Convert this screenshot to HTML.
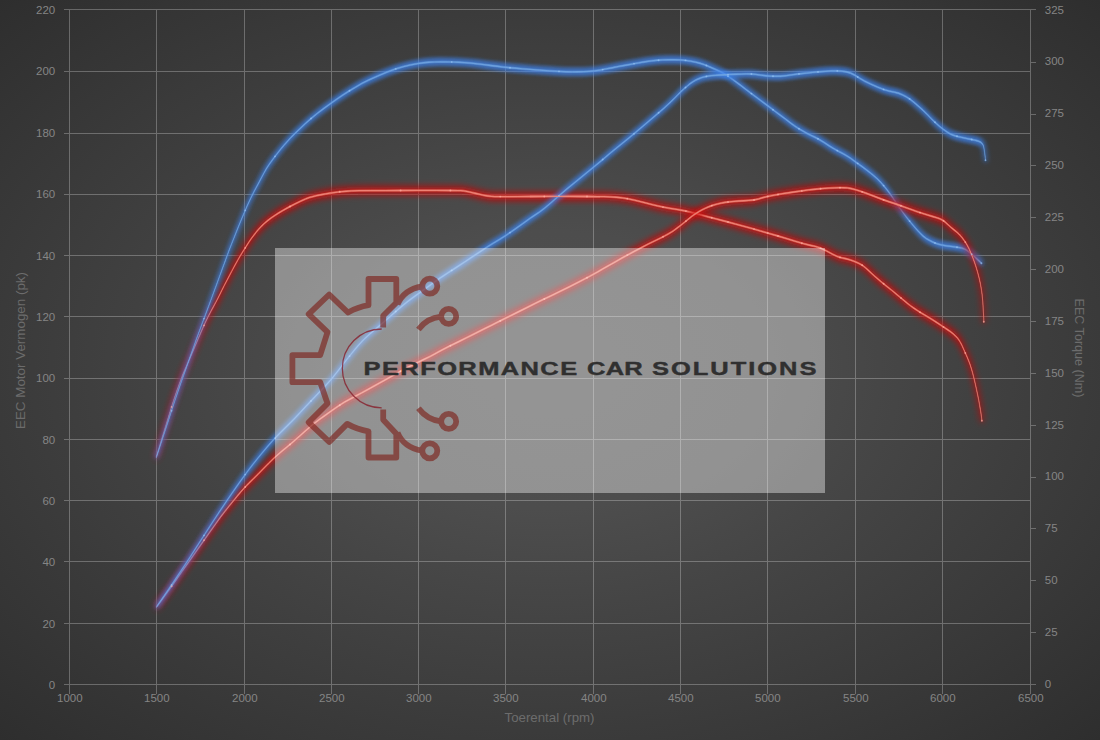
<!DOCTYPE html>
<html><head><meta charset="utf-8"><title>Dyno chart</title>
<style>
html,body{margin:0;padding:0;background:#383838;}
body{width:1100px;height:740px;overflow:hidden;font-family:"Liberation Sans",sans-serif;}
svg{display:block}
text{font-family:"Liberation Sans",sans-serif;}
</style></head><body>
<svg width="1100" height="740" viewBox="0 0 1100 740">
<defs>
<radialGradient id="bg" cx="0.5" cy="0.5" r="0.75"><stop offset="0" stop-color="#505050"/><stop offset="0.25" stop-color="#4d4d4d"/><stop offset="0.4" stop-color="#464646"/><stop offset="0.65" stop-color="#3b3b3b"/><stop offset="0.943" stop-color="#2e2e2e"/><stop offset="1" stop-color="#2b2b2b"/></radialGradient>
<filter id="g1r" x="0" y="0" width="1100" height="740" filterUnits="userSpaceOnUse"><feGaussianBlur stdDeviation="3.0 3.6"/></filter>
<filter id="g3r" x="0" y="0" width="1100" height="740" filterUnits="userSpaceOnUse"><feGaussianBlur stdDeviation="3.4"/></filter>
<filter id="g1b" x="0" y="0" width="1100" height="740" filterUnits="userSpaceOnUse"><feGaussianBlur stdDeviation="2.4 1.7"/></filter>
<filter id="g3b" x="0" y="0" width="1100" height="740" filterUnits="userSpaceOnUse"><feGaussianBlur stdDeviation="2.6"/></filter>
<filter id="gm" x="0" y="0" width="1100" height="740" filterUnits="userSpaceOnUse"><feGaussianBlur stdDeviation="0.9"/></filter>
<filter id="g2" x="0" y="0" width="1100" height="740" filterUnits="userSpaceOnUse"><feGaussianBlur stdDeviation="0.45"/></filter>
<path id="rt" d="M156.5 456.7C157.9 452.0 162.1 437.9 165.0 428.5C167.9 419.1 171.1 408.4 173.8 400.0C176.6 391.6 179.2 384.2 181.5 378.1C183.8 372.0 184.5 370.9 187.7 363.3C190.9 355.7 197.4 340.4 200.8 332.6C204.2 324.8 205.5 321.9 208.2 316.5C210.9 311.1 214.3 305.2 217.0 300.0C219.7 294.8 222.0 289.9 224.5 285.0C227.0 280.1 229.8 274.8 232.1 270.5C234.4 266.2 236.3 262.6 238.4 259.0C240.5 255.4 242.4 252.3 244.6 248.8C246.8 245.3 249.2 241.6 251.6 238.2C254.0 234.8 256.5 231.5 259.2 228.6C261.9 225.7 264.6 223.1 267.8 220.5C271.0 217.9 274.9 215.3 278.6 213.0C282.3 210.7 285.5 208.8 290.0 206.5C294.5 204.2 301.3 200.7 305.7 198.9C310.1 197.1 312.4 196.6 316.5 195.7C320.6 194.8 325.8 193.9 330.0 193.2C334.2 192.5 337.2 192.0 342.0 191.6C346.8 191.2 349.2 190.9 359.0 190.7C368.8 190.5 385.4 190.5 400.6 190.5C415.8 190.5 439.9 190.4 450.4 190.5C460.9 190.6 459.5 190.4 463.8 190.9C468.1 191.4 472.0 192.7 476.0 193.5C480.0 194.3 483.9 195.5 488.0 196.0C492.1 196.5 493.3 196.5 500.3 196.6C507.3 196.7 515.5 196.5 530.0 196.5C544.5 196.5 573.7 196.4 587.0 196.5C600.3 196.6 603.1 196.4 610.0 196.8C616.9 197.2 622.2 197.7 628.3 198.8C634.4 199.9 640.6 201.8 646.5 203.2C652.4 204.6 657.0 205.9 663.5 207.2C670.0 208.5 678.0 209.4 685.5 211.0C693.0 212.6 701.6 215.2 708.7 217.0C715.8 218.8 720.7 220.1 728.0 222.0C735.3 223.9 744.2 226.4 752.5 228.7C760.8 231.0 769.5 233.5 778.0 236.0C786.5 238.5 796.4 241.7 803.5 243.7C810.6 245.7 814.9 245.9 820.6 248.1C826.3 250.2 832.7 254.7 837.6 256.6C842.5 258.6 845.9 258.4 850.0 259.8C854.1 261.2 858.6 262.9 862.2 265.2C865.9 267.5 868.7 270.9 871.9 273.7C875.1 276.5 878.4 279.5 881.6 282.2C884.9 284.9 888.2 287.4 891.4 290.0C894.6 292.6 897.8 295.3 901.0 298.0C904.2 300.7 907.5 303.6 910.8 306.0C914.1 308.4 917.0 310.3 920.6 312.6C924.2 314.9 928.9 317.5 932.7 319.9C936.5 322.3 940.1 324.7 943.5 327.0C946.9 329.3 950.3 331.4 953.0 333.7C955.7 336.0 957.6 337.8 959.6 341.0C961.6 344.2 963.6 349.1 965.3 353.0C967.0 356.9 968.6 360.2 970.0 364.3C971.4 368.4 972.5 372.6 973.8 377.6C975.1 382.7 976.5 389.2 977.6 394.6C978.7 400.0 979.7 405.4 980.4 409.7C981.1 414.0 981.6 418.9 981.9 420.7"/>
<path id="bt" d="M156.5 456.7C158.1 452.0 162.7 437.9 165.8 428.5C168.9 419.1 172.3 408.4 175.1 400.0C177.9 391.6 180.0 385.6 182.6 378.1C185.2 370.6 188.0 362.8 190.7 355.2C193.4 347.6 196.4 339.1 198.8 332.6C201.2 326.1 202.9 321.6 204.9 316.2C206.9 310.8 208.5 306.6 210.9 300.0C213.3 293.4 216.5 284.8 219.5 276.5C222.5 268.2 226.2 257.9 229.0 250.5C231.8 243.1 233.7 238.4 236.3 232.0C238.9 225.6 242.1 217.7 244.6 211.8C247.1 205.9 249.2 201.4 251.6 196.4C254.0 191.4 256.7 186.7 259.2 182.0C261.7 177.3 263.9 172.8 266.5 168.5C269.1 164.2 272.0 160.3 275.0 156.4C278.0 152.5 281.1 148.6 284.3 144.9C287.5 141.2 289.9 138.4 294.4 134.0C298.9 129.6 305.4 123.3 311.4 118.2C317.4 113.1 324.1 108.2 330.5 103.6C336.9 99.0 343.1 94.8 349.5 90.8C355.9 86.8 361.3 83.6 369.0 79.9C376.7 76.2 387.6 71.6 395.7 68.9C403.8 66.2 411.1 64.8 417.6 63.6C424.1 62.5 428.9 62.3 434.6 62.0C440.3 61.7 445.6 61.8 451.7 62.0C457.8 62.2 464.5 62.5 471.0 63.1C477.5 63.7 484.1 64.7 490.6 65.5C497.1 66.3 503.4 67.0 510.0 67.7C516.6 68.4 521.8 68.8 530.0 69.4C538.2 70.0 550.9 71.0 559.0 71.4C567.1 71.8 572.5 71.9 578.4 71.8C584.3 71.7 588.5 71.6 594.2 70.9C599.9 70.2 606.2 68.9 612.5 67.7C618.8 66.5 625.5 65.1 632.0 64.0C638.5 62.9 645.3 61.6 651.4 60.9C657.5 60.2 662.7 59.8 668.4 59.7C674.1 59.6 680.2 59.8 685.5 60.4C690.8 61.0 695.5 61.9 700.0 63.2C704.5 64.5 708.2 66.2 712.2 68.0C716.2 69.8 720.2 71.4 724.3 73.8C728.3 76.2 732.0 79.0 736.5 82.3C741.0 85.5 746.1 89.6 751.0 93.3C755.9 97.0 760.8 100.5 765.7 104.2C770.6 107.9 775.4 111.6 780.3 115.2C785.2 118.8 790.4 123.1 794.9 126.1C799.4 129.1 803.0 131.2 807.0 133.4C811.0 135.6 814.7 136.9 819.2 139.5C823.7 142.1 829.3 146.1 833.8 148.7C838.3 151.3 841.9 152.8 846.0 155.3C850.1 157.8 854.2 160.9 858.2 163.8C862.2 166.7 866.7 169.9 870.3 172.8C873.9 175.8 876.8 178.1 880.0 181.5C883.2 184.9 886.7 189.3 889.8 193.5C892.9 197.7 895.2 201.8 898.7 206.6C902.2 211.4 906.8 217.7 910.8 222.6C914.8 227.5 919.4 232.8 923.0 236.0C926.6 239.2 929.5 240.5 932.7 242.0C936.0 243.5 938.9 244.4 942.5 245.2C946.1 246.0 951.0 246.3 954.6 246.9C958.2 247.5 961.5 247.7 964.4 248.9C967.2 250.1 968.9 251.8 971.7 254.2C974.5 256.6 979.8 261.7 981.4 263.2"/>
<path id="rp" d="M156.8 606.5C159.3 603.1 166.4 593.4 171.6 586.2C176.8 579.0 182.4 570.9 187.8 563.2C193.2 555.6 198.6 547.9 204.0 540.3C209.4 532.6 215.3 524.0 220.3 517.3C225.3 510.6 229.8 505.2 233.8 500.3C237.9 495.4 240.5 492.0 244.6 487.6C248.7 483.2 253.2 479.1 258.1 474.1C263.1 469.1 268.4 463.2 274.3 457.8C280.2 452.4 286.9 447.2 293.3 441.7C299.7 436.2 306.4 429.7 312.7 424.6C319.0 419.5 325.7 414.9 331.0 411.2C336.3 407.5 339.3 405.2 344.4 402.2C349.5 399.2 354.5 396.8 361.4 393.0C368.3 389.2 378.0 383.9 385.7 379.6C393.4 375.3 400.2 371.2 407.6 367.4C415.0 363.5 424.1 359.5 430.0 356.5C435.9 353.5 436.5 352.8 442.7 349.6C448.9 346.4 458.9 341.6 467.0 337.5C475.1 333.4 484.1 328.9 491.4 325.3C498.7 321.7 503.5 319.2 510.8 315.6C518.1 312.0 527.0 307.4 535.2 303.4C543.4 299.4 551.0 295.9 560.0 291.4C569.0 286.9 581.0 280.9 589.3 276.5C597.6 272.1 603.5 268.4 610.0 264.8C616.5 261.2 621.8 258.1 628.3 254.6C634.8 251.1 642.3 247.1 649.0 243.7C655.7 240.2 663.1 236.9 668.4 233.9C673.7 230.9 676.5 228.4 680.6 225.4C684.7 222.4 689.1 218.3 692.7 215.7C696.4 213.1 699.2 211.3 702.5 209.6C705.8 207.9 708.6 206.7 712.2 205.5C715.8 204.3 719.8 203.2 724.3 202.5C728.8 201.8 734.1 201.4 739.0 201.0C743.9 200.6 748.9 200.7 753.6 200.0C758.3 199.3 762.1 197.7 767.0 196.6C771.9 195.5 776.8 194.7 782.7 193.7C788.6 192.7 795.7 191.7 802.2 190.8C808.7 190.0 815.4 189.1 821.7 188.6C828.0 188.1 835.1 187.7 840.0 187.7C844.9 187.7 846.6 187.6 850.9 188.5C855.1 189.4 860.0 191.1 865.5 193.0C871.0 194.9 878.5 198.0 884.0 200.0C889.5 202.0 893.2 203.1 898.7 205.0C904.2 206.9 911.3 209.7 917.0 211.6C922.7 213.5 928.5 215.1 932.7 216.5C937.0 217.9 939.5 218.3 942.5 220.1C945.5 221.9 948.2 225.0 951.0 227.4C953.8 229.8 956.9 231.8 959.5 234.7C962.1 237.5 964.6 240.6 966.8 244.5C969.0 248.4 971.1 253.2 972.9 257.9C974.7 262.6 976.3 267.2 977.7 272.5C979.1 277.8 980.5 283.8 981.4 289.5C982.3 295.2 982.7 301.1 983.1 306.5C983.5 311.9 983.7 319.2 983.8 321.8"/>
<path id="bp" d="M156.8 606.5C158.8 603.6 164.2 595.9 168.9 588.9C173.6 581.9 179.9 572.5 185.1 564.6C190.3 556.7 195.0 549.3 200.0 541.6C205.0 533.9 210.2 525.8 214.9 518.6C219.6 511.4 223.5 505.6 228.4 498.4C233.3 491.2 239.6 482.2 244.6 475.4C249.6 468.6 253.2 463.9 258.1 457.8C263.1 451.7 268.4 445.2 274.3 438.9C280.2 432.6 286.9 426.4 293.3 419.8C299.7 413.2 306.4 405.8 312.7 399.1C319.0 392.4 324.9 386.7 331.0 379.6C337.1 372.5 343.7 363.2 349.2 356.5C354.7 349.8 357.9 345.3 363.8 339.5C369.7 333.7 377.6 327.4 384.3 321.6C391.0 315.8 398.1 309.2 403.8 304.6C409.5 300.0 412.3 298.1 418.4 293.7C424.5 289.2 432.6 283.2 440.3 277.9C448.0 272.6 456.9 267.1 464.6 262.0C472.3 256.9 479.6 251.8 486.5 247.4C493.4 243.0 498.7 240.2 506.0 235.3C513.3 230.4 523.9 222.7 530.3 218.2C536.7 213.7 538.3 213.2 544.3 208.4C550.3 203.6 557.9 196.5 566.2 189.5C574.5 182.5 585.7 173.6 594.2 166.6C602.7 159.6 610.6 152.8 617.3 147.3C624.0 141.8 627.5 139.2 634.4 133.4C641.3 127.6 652.6 118.0 658.7 112.7C664.8 107.4 667.2 105.2 670.9 101.8C674.5 98.3 677.4 95.0 680.6 92.0C683.8 89.0 687.3 85.7 690.3 83.5C693.3 81.3 696.0 79.9 698.8 78.7C701.6 77.5 703.8 76.8 707.3 76.2C710.8 75.6 715.2 75.3 720.0 75.0C724.8 74.7 730.8 74.5 736.0 74.3C741.2 74.1 746.0 73.8 751.0 74.0C756.0 74.2 760.8 75.3 765.7 75.7C770.6 76.1 774.6 76.5 780.3 76.2C786.0 75.9 793.3 74.5 799.8 73.8C806.3 73.1 813.1 72.3 819.2 71.8C825.3 71.3 831.1 70.7 836.3 70.9C841.5 71.1 845.8 71.3 850.5 73.0C855.2 74.7 859.0 78.3 864.6 81.1C870.2 83.9 878.3 87.6 884.0 89.6C889.7 91.6 894.4 91.8 898.7 93.3C903.0 94.8 905.6 96.1 909.6 98.9C913.6 101.7 918.7 106.4 923.0 110.3C927.3 114.2 931.2 118.8 935.2 122.5C939.2 126.2 943.7 129.9 947.3 132.2C950.9 134.5 952.9 135.1 957.0 136.3C961.1 137.5 968.0 138.7 971.7 139.5C975.4 140.3 977.1 140.5 979.0 141.4C980.9 142.3 982.1 143.1 983.0 144.8C983.9 146.5 984.1 149.1 984.5 151.7C984.9 154.3 985.3 158.8 985.5 160.2"/>
<clipPath id="cpb"><rect x="530" y="180" width="70" height="35"/></clipPath>
</defs>
<rect width="1100" height="740" fill="url(#bg)"/>
<path d="M69.5 9V694M156.5 9V694M244.5 9V694M331.5 9V694M418.5 9V694M505.5 9V694M593.5 9V694M680.5 9V694M767.5 9V694M855.5 9V694M942.5 9V694M1030.5 9V694M64 684.5H1030M64 623.5H1030M64 561.5H1030M64 500.5H1030M64 439.5H1030M64 378.5H1030M64 316.5H1030M64 255.5H1030M64 194.5H1030M64 133.5H1030M64 71.5H1030M64 9.5H1030M1031 684.5H1036M1031 632.5H1036M1031 580.5H1036M1031 528.5H1036M1031 477.5H1036M1031 425.5H1036M1031 373.5H1036M1031 321.5H1036M1031 269.5H1036M1031 217.5H1036M1031 165.5H1036M1031 114.5H1036M1031 62.5H1036M1031 9.5H1036" stroke="rgba(255,255,255,0.265)" stroke-width="1" fill="none" shape-rendering="crispEdges"/>
<g font-size="11.5" fill="#858585" letter-spacing="-0.05"><text x="55.1" y="689.0" text-anchor="end">0</text><text x="55.1" y="627.6" text-anchor="end">20</text><text x="55.1" y="566.3" text-anchor="end">40</text><text x="55.1" y="504.9" text-anchor="end">60</text><text x="55.1" y="443.5" text-anchor="end">80</text><text x="55.1" y="382.2" text-anchor="end">100</text><text x="55.1" y="320.8" text-anchor="end">120</text><text x="55.1" y="259.5" text-anchor="end">140</text><text x="55.1" y="198.1" text-anchor="end">160</text><text x="55.1" y="136.7" text-anchor="end">180</text><text x="55.1" y="75.4" text-anchor="end">200</text><text x="55.1" y="14.0" text-anchor="end">220</text><text x="69.8" y="702.2" text-anchor="middle">1000</text><text x="156.8" y="702.2" text-anchor="middle">1500</text><text x="244.8" y="702.2" text-anchor="middle">2000</text><text x="331.8" y="702.2" text-anchor="middle">2500</text><text x="418.8" y="702.2" text-anchor="middle">3000</text><text x="505.8" y="702.2" text-anchor="middle">3500</text><text x="593.8" y="702.2" text-anchor="middle">4000</text><text x="680.8" y="702.2" text-anchor="middle">4500</text><text x="767.8" y="702.2" text-anchor="middle">5000</text><text x="855.8" y="702.2" text-anchor="middle">5500</text><text x="942.8" y="702.2" text-anchor="middle">6000</text><text x="1030.8" y="702.2" text-anchor="middle">6500</text><text x="1044.8" y="687.8">0</text><text x="1044.8" y="635.9">25</text><text x="1044.8" y="584.1">50</text><text x="1044.8" y="532.2">75</text><text x="1044.8" y="480.4">100</text><text x="1044.8" y="428.5">125</text><text x="1044.8" y="376.6">150</text><text x="1044.8" y="324.8">175</text><text x="1044.8" y="272.9">200</text><text x="1044.8" y="221.0">225</text><text x="1044.8" y="169.2">250</text><text x="1044.8" y="117.3">275</text><text x="1044.8" y="65.4">300</text><text x="1044.8" y="13.6">325</text></g>
<g font-size="12.2" fill="#6c6c6c" text-anchor="middle"><text x="549.5" y="721.5" textLength="90" lengthAdjust="spacingAndGlyphs">Toerental (rpm)</text><text transform="translate(25.2 350.5) rotate(-90)" textLength="157" lengthAdjust="spacingAndGlyphs">EEC Motor Vermogen (pk)</text><text transform="translate(1074.5 348) rotate(90)" textLength="99" lengthAdjust="spacingAndGlyphs">EEC Torque (Nm)</text></g>
<g fill="none" stroke-linecap="round" stroke-linejoin="round"><path d="M156.5 452.7L158.7 445.4L161.8 435.0L165.0 424.5L168.0 414.8L170.9 405.0L173.8 396.0L176.5 387.9L179.1 380.6L181.5 374.1L183.4 369.2L185.2 365.1L187.7 359.3L191.8 349.7L196.6 338.3L200.8 328.6L203.6 322.2L205.8 317.4L208.2 312.5L211.1 307.0L214.1 301.4L217.0 296.0L219.6 290.9L222.0 285.9L224.5 281.0L227.1 276.0L229.7 271.1L232.1 266.5L234.3 262.4L236.4 258.6L238.4 255.0L240.4 251.5L242.5 248.2L244.6 244.8L246.9 241.3L249.2 237.7L251.6 234.2L254.1 230.9L256.6 227.7L259.2 224.6L261.9 221.8L264.7 219.1L267.8 216.5L271.2 213.9L274.9 211.4L278.6 209.0L282.2 206.8L285.9 204.7L290.0 202.5L295.1 199.9L300.7 197.1L305.7 194.9L309.6 193.5L312.9 192.6L316.5 191.7L320.9 190.8L325.5 189.9L330.0 189.2L333.9 188.6L337.7 188.0L342.0 187.6L346.4 187.2L351.3 186.9L359.0 186.7L370.7 186.6L385.2 186.5L400.6 186.5L417.9 186.5L436.2 186.5L450.4 186.5L457.6 186.5L460.8 186.6L463.8 186.9L468.0 187.6L472.0 188.6L476.0 189.5L480.0 190.4L484.0 191.3L488.0 192.0L491.4 192.4L494.9 192.5L500.3 192.6L507.9 192.6L517.4 192.6L530.0 192.5L548.2 192.5L569.5 192.5L587.0 192.5L597.4 192.5L603.9 192.6L610.0 192.8L616.5 193.3L622.4 193.9L628.3 194.8L634.4 196.1L640.5 197.7L646.5 199.2L652.1 200.6L657.5 201.9L663.5 203.2L670.4 204.4L677.9 205.6L685.5 207.0L693.3 208.9L701.2 211.0L708.7 213.0L715.2 214.7L721.3 216.2L728.0 218.0L735.7 220.1L744.1 222.4L752.5 224.7L760.9 227.1L769.5 229.5L778.0 232.0L786.8 234.7L795.6 237.4L803.5 239.7L809.8 241.3L815.2 242.5L820.6 244.1L826.4 246.8L832.3 250.0L837.6 252.6L842.1 254.0L846.1 254.8L850.0 255.8L854.2 257.3L858.3 259.1L862.2 261.2L865.6 263.8L868.8 266.8L871.9 269.7L875.1 272.6L878.4 275.4L881.6 278.2L884.9 280.8L888.1 283.4L891.4 286.0L894.6 288.7L897.8 291.3L901.0 294.0L904.3 296.7L907.5 299.4L910.8 302.0L914.0 304.3L917.2 306.4L920.6 308.6L924.5 311.0L928.7 313.5L932.7 315.9L936.4 318.3L940.0 320.7L943.5 323.0L946.9 325.2L950.1 327.4L953.0 329.7L955.4 331.9L957.6 334.2L959.6 337.0L961.6 340.7L963.5 344.9L965.3 349.0L967.0 352.7L968.5 356.4L970.0 360.3L971.3 364.4L972.6 368.8L973.8 373.6L975.1 379.1L976.4 384.9L977.6 390.6L978.7 395.9L979.6 401.0L980.4 405.7L981.1 410.1L981.6 414.0L981.9 416.7L981.9 424.7L981.6 422.0L981.1 418.1L980.4 413.7L979.6 409.0L978.7 403.9L977.6 398.6L976.4 392.9L975.1 387.1L973.8 381.6L972.6 376.8L971.3 372.4L970.0 368.3L968.5 364.4L967.0 360.7L965.3 357.0L963.5 352.9L961.6 348.7L959.6 345.0L957.6 342.2L955.4 339.9L953.0 337.7L950.1 335.4L946.9 333.2L943.5 331.0L940.0 328.7L936.4 326.3L932.7 323.9L928.7 321.5L924.5 319.0L920.6 316.6L917.2 314.4L914.0 312.3L910.8 310.0L907.5 307.4L904.3 304.7L901.0 302.0L897.8 299.3L894.6 296.7L891.4 294.0L888.1 291.4L884.9 288.8L881.6 286.2L878.4 283.4L875.1 280.6L871.9 277.7L868.8 274.8L865.6 271.8L862.2 269.2L858.3 267.1L854.2 265.3L850.0 263.8L846.1 262.8L842.1 262.0L837.6 260.6L832.3 258.0L826.4 254.8L820.6 252.1L815.2 250.5L809.8 249.3L803.5 247.7L795.6 245.4L786.8 242.7L778.0 240.0L769.5 237.5L760.9 235.1L752.5 232.7L744.1 230.4L735.7 228.1L728.0 226.0L721.3 224.2L715.2 222.7L708.7 221.0L701.2 219.0L693.3 216.9L685.5 215.0L677.9 213.6L670.4 212.4L663.5 211.2L657.5 209.9L652.1 208.6L646.5 207.2L640.5 205.7L634.4 204.1L628.3 202.8L622.4 201.9L616.5 201.3L610.0 200.8L603.9 200.6L597.4 200.5L587.0 200.5L569.5 200.5L548.2 200.5L530.0 200.5L517.4 200.6L507.9 200.6L500.3 200.6L494.9 200.5L491.4 200.4L488.0 200.0L484.0 199.3L480.0 198.4L476.0 197.5L472.0 196.6L468.0 195.6L463.8 194.9L460.8 194.6L457.6 194.5L450.4 194.5L436.2 194.5L417.9 194.5L400.6 194.5L385.2 194.5L370.7 194.6L359.0 194.7L351.3 194.9L346.4 195.2L342.0 195.6L337.7 196.0L333.9 196.6L330.0 197.2L325.5 197.9L320.9 198.8L316.5 199.7L312.9 200.6L309.6 201.5L305.7 202.9L300.7 205.1L295.1 207.9L290.0 210.5L285.9 212.7L282.2 214.8L278.6 217.0L274.9 219.4L271.2 221.9L267.8 224.5L264.7 227.1L261.9 229.8L259.2 232.6L256.6 235.7L254.1 238.9L251.6 242.2L249.2 245.7L246.9 249.3L244.6 252.8L242.5 256.2L240.4 259.5L238.4 263.0L236.4 266.6L234.3 270.4L232.1 274.5L229.7 279.1L227.1 284.0L224.5 289.0L222.0 293.9L219.6 298.9L217.0 304.0L214.1 309.4L211.1 315.0L208.2 320.5L205.8 325.4L203.6 330.2L200.8 336.6L196.6 346.3L191.8 357.7L187.7 367.3L185.2 373.1L183.4 377.2L181.5 382.1L179.1 388.6L176.5 395.9L173.8 404.0L170.9 413.0L168.0 422.8L165.0 432.5L161.8 443.0L158.7 453.4L156.5 460.7Z" fill="#cc0c0c" fill-opacity="0.72" filter="url(#g1r)"/><use href="#rt" stroke="#cc0c0c" stroke-width="4.5" stroke-opacity="0.45" filter="url(#g3r)"/><path d="M156.5 455.4L158.7 448.1L161.8 437.7L165.0 427.2L168.0 417.5L170.9 407.7L173.8 398.7L176.5 390.6L179.1 383.3L181.5 376.8L183.4 371.9L185.2 367.8L187.7 362.0L191.8 352.4L196.6 341.0L200.8 331.3L203.6 324.9L205.8 320.1L208.2 315.2L211.1 309.7L214.1 304.1L217.0 298.7L219.6 293.6L222.0 288.6L224.5 283.7L227.1 278.7L229.7 273.8L232.1 269.2L234.3 265.1L236.4 261.3L238.4 257.7L240.4 254.2L242.5 250.9L244.6 247.5L246.9 244.0L249.2 240.4L251.6 236.9L254.1 233.6L256.6 230.4L259.2 227.3L261.9 224.5L264.7 221.8L267.8 219.2L271.2 216.6L274.9 214.1L278.6 211.7L282.2 209.5L285.9 207.4L290.0 205.2L295.1 202.6L300.7 199.8L305.7 197.6L309.6 196.2L312.9 195.3L316.5 194.4L320.9 193.5L325.5 192.6L330.0 191.9L333.9 191.3L337.7 190.7L342.0 190.3L346.4 189.9L351.3 189.6L359.0 189.4L370.7 189.3L385.2 189.2L400.6 189.2L417.9 189.2L436.2 189.2L450.4 189.2L457.6 189.2L460.8 189.3L463.8 189.6L468.0 190.3L472.0 191.3L476.0 192.2L480.0 193.1L484.0 194.0L488.0 194.7L491.4 195.1L494.9 195.2L500.3 195.3L507.9 195.3L517.4 195.3L530.0 195.2L548.2 195.2L569.5 195.2L587.0 195.2L597.4 195.2L603.9 195.3L610.0 195.5L616.5 196.0L622.4 196.6L628.3 197.5L634.4 198.8L640.5 200.4L646.5 201.9L652.1 203.3L657.5 204.6L663.5 205.9L670.4 207.1L677.9 208.3L685.5 209.7L693.3 211.6L701.2 213.7L708.7 215.7L715.2 217.4L721.3 218.9L728.0 220.7L735.7 222.8L744.1 225.1L752.5 227.4L760.9 229.8L769.5 232.2L778.0 234.7L786.8 237.4L795.6 240.1L803.5 242.4L809.8 244.0L815.2 245.2L820.6 246.8L826.4 249.5L832.3 252.7L837.6 255.3L842.1 256.7L846.1 257.5L850.0 258.5L854.2 260.0L858.3 261.8L862.2 263.9L865.6 266.5L868.8 269.5L871.9 272.4L875.1 275.3L878.4 278.1L881.6 280.9L884.9 283.5L888.1 286.1L891.4 288.7L894.6 291.4L897.8 294.0L901.0 296.7L904.3 299.4L907.5 302.1L910.8 304.7L914.0 307.0L917.2 309.1L920.6 311.3L924.5 313.7L928.7 316.2L932.7 318.6L936.4 321.0L940.0 323.4L943.5 325.7L946.9 327.9L950.1 330.1L953.0 332.4L955.4 334.6L957.6 336.9L959.6 339.7L961.6 343.4L963.5 347.6L965.3 351.7L967.0 355.4L968.5 359.1L970.0 363.0L971.3 367.1L972.6 371.5L973.8 376.3L975.1 381.8L976.4 387.6L977.6 393.3L978.7 398.6L979.6 403.7L980.4 408.4L981.1 412.8L981.6 416.7L981.9 419.4L981.9 422.0L981.6 419.3L981.1 415.4L980.4 411.0L979.6 406.3L978.7 401.2L977.6 395.9L976.4 390.2L975.1 384.4L973.8 378.9L972.6 374.1L971.3 369.7L970.0 365.6L968.5 361.7L967.0 358.0L965.3 354.3L963.5 350.2L961.6 346.0L959.6 342.3L957.6 339.5L955.4 337.2L953.0 335.0L950.1 332.7L946.9 330.5L943.5 328.3L940.0 326.0L936.4 323.6L932.7 321.2L928.7 318.8L924.5 316.3L920.6 313.9L917.2 311.7L914.0 309.6L910.8 307.3L907.5 304.7L904.3 302.0L901.0 299.3L897.8 296.6L894.6 294.0L891.4 291.3L888.1 288.7L884.9 286.1L881.6 283.5L878.4 280.7L875.1 277.9L871.9 275.0L868.8 272.1L865.6 269.1L862.2 266.5L858.3 264.4L854.2 262.6L850.0 261.1L846.1 260.1L842.1 259.3L837.6 257.9L832.3 255.3L826.4 252.1L820.6 249.4L815.2 247.8L809.8 246.6L803.5 245.0L795.6 242.7L786.8 240.0L778.0 237.3L769.5 234.8L760.9 232.4L752.5 230.0L744.1 227.7L735.7 225.4L728.0 223.3L721.3 221.5L715.2 220.0L708.7 218.3L701.2 216.3L693.3 214.2L685.5 212.3L677.9 210.9L670.4 209.7L663.5 208.5L657.5 207.2L652.1 205.9L646.5 204.5L640.5 203.0L634.4 201.4L628.3 200.1L622.4 199.2L616.5 198.6L610.0 198.1L603.9 197.9L597.4 197.8L587.0 197.8L569.5 197.8L548.2 197.8L530.0 197.8L517.4 197.9L507.9 197.9L500.3 197.9L494.9 197.8L491.4 197.7L488.0 197.3L484.0 196.6L480.0 195.7L476.0 194.8L472.0 193.9L468.0 192.9L463.8 192.2L460.8 191.9L457.6 191.8L450.4 191.8L436.2 191.8L417.9 191.8L400.6 191.8L385.2 191.8L370.7 191.9L359.0 192.0L351.3 192.2L346.4 192.5L342.0 192.9L337.7 193.3L333.9 193.9L330.0 194.5L325.5 195.2L320.9 196.1L316.5 197.0L312.9 197.9L309.6 198.8L305.7 200.2L300.7 202.4L295.1 205.2L290.0 207.8L285.9 210.0L282.2 212.1L278.6 214.3L274.9 216.7L271.2 219.2L267.8 221.8L264.7 224.4L261.9 227.1L259.2 229.9L256.6 233.0L254.1 236.2L251.6 239.5L249.2 243.0L246.9 246.6L244.6 250.1L242.5 253.5L240.4 256.8L238.4 260.3L236.4 263.9L234.3 267.7L232.1 271.8L229.7 276.4L227.1 281.3L224.5 286.3L222.0 291.2L219.6 296.2L217.0 301.3L214.1 306.7L211.1 312.3L208.2 317.8L205.8 322.7L203.6 327.5L200.8 333.9L196.6 343.6L191.8 355.0L187.7 364.6L185.2 370.4L183.4 374.5L181.5 379.4L179.1 385.9L176.5 393.2L173.8 401.3L170.9 410.3L168.0 420.1L165.0 429.8L161.8 440.3L158.7 450.7L156.5 458.0Z" fill="#f01810" fill-opacity="0.32" stroke="#f01810" stroke-opacity="0.32" stroke-width="0.5" filter="url(#gm)"/><path d="M156.5 456.1L158.7 448.8L161.8 438.3L165.0 427.9L168.0 418.1L170.9 408.4L173.8 399.4L176.5 391.3L179.1 384.0L181.5 377.5L183.4 372.6L185.2 368.5L187.7 362.7L191.8 353.1L196.6 341.7L200.8 332.0L203.6 325.5L205.8 320.7L208.2 315.9L211.1 310.3L214.1 304.8L217.0 299.4L219.6 294.2L222.0 289.3L224.5 284.4L227.1 279.4L229.7 274.4L232.1 269.9L234.3 265.7L236.4 262.0L238.4 258.4L240.4 254.9L242.5 251.5L244.6 248.2L246.9 244.6L249.2 241.0L251.6 237.5L254.1 234.2L256.6 231.0L259.2 227.9L261.9 225.1L264.7 222.4L267.8 219.8L271.2 217.3L274.9 214.8L278.6 212.3L282.2 210.2L285.9 208.1L290.0 205.8L295.1 203.2L300.7 200.5L305.7 198.2L309.6 196.8L312.9 195.9L316.5 195.0L320.9 194.1L325.5 193.3L330.0 192.5L333.9 191.9L337.7 191.4L342.0 190.9L346.4 190.6L351.3 190.3L359.0 190.0L370.7 189.9L385.2 189.9L400.6 189.8L417.9 189.8L436.2 189.8L450.4 189.8L457.6 189.9L460.8 189.9L463.8 190.2L468.0 191.0L472.0 191.9L476.0 192.8L480.0 193.8L484.0 194.7L488.0 195.3L491.4 195.7L494.9 195.9L500.3 195.9L507.9 196.0L517.4 195.9L530.0 195.8L548.2 195.8L569.5 195.8L587.0 195.8L597.4 195.9L603.9 195.9L610.0 196.2L616.5 196.6L622.4 197.2L628.3 198.2L634.4 199.5L640.5 201.0L646.5 202.5L652.1 203.9L657.5 205.2L663.5 206.5L670.4 207.8L677.9 208.9L685.5 210.3L693.3 212.2L701.2 214.3L708.7 216.3L715.2 218.0L721.3 219.6L728.0 221.3L735.7 223.4L744.1 225.7L752.5 228.0L760.9 230.4L769.5 232.9L778.0 235.3L786.8 238.0L795.6 240.7L803.5 243.0L809.8 244.6L815.2 245.8L820.6 247.4L826.4 250.2L832.3 253.4L837.6 256.0L842.1 257.3L846.1 258.1L850.0 259.2L854.2 260.7L858.3 262.4L862.2 264.6L865.6 267.2L868.8 270.1L871.9 273.1L875.1 275.9L878.4 278.8L881.6 281.6L884.9 284.2L888.1 286.8L891.4 289.4L894.6 292.0L897.8 294.7L901.0 297.4L904.3 300.1L907.5 302.8L910.8 305.4L914.0 307.6L917.2 309.8L920.6 312.0L924.5 314.3L928.7 316.8L932.7 319.2L936.4 321.6L940.0 324.0L943.5 326.4L946.9 328.6L950.1 330.8L953.0 333.1L955.4 335.3L957.6 337.5L959.6 340.4L961.6 344.0L963.5 348.2L965.3 352.4L967.0 356.1L968.5 359.8L970.0 363.7L971.3 367.8L972.6 372.2L973.8 377.0L975.1 382.4L976.4 388.3L977.6 394.0L978.7 399.3L979.6 404.4L980.4 409.1L981.1 413.4L981.6 417.3L981.9 420.1L981.9 421.3L981.6 418.6L981.1 414.7L980.4 410.3L979.6 405.7L978.7 400.6L977.6 395.2L976.4 389.6L975.1 383.7L973.8 378.2L972.6 373.5L971.3 369.1L970.0 364.9L968.5 361.1L967.0 357.4L965.3 353.6L963.5 349.5L961.6 345.3L959.6 341.6L957.6 338.8L955.4 336.6L953.0 334.3L950.1 332.1L946.9 329.9L943.5 327.6L940.0 325.3L936.4 322.9L932.7 320.5L928.7 318.1L924.5 315.6L920.6 313.2L917.2 311.0L914.0 308.9L910.8 306.6L907.5 304.1L904.3 301.4L901.0 298.6L897.8 296.0L894.6 293.3L891.4 290.6L888.1 288.1L884.9 285.5L881.6 282.8L878.4 280.1L875.1 277.2L871.9 274.3L868.8 271.4L865.6 268.5L862.2 265.8L858.3 263.7L854.2 262.0L850.0 260.4L846.1 259.4L842.1 258.6L837.6 257.2L832.3 254.7L826.4 251.5L820.6 248.8L815.2 247.1L809.8 245.9L803.5 244.3L795.6 242.0L786.8 239.3L778.0 236.7L769.5 234.2L760.9 231.7L752.5 229.3L744.1 227.0L735.7 224.7L728.0 222.7L721.3 220.9L715.2 219.3L708.7 217.7L701.2 215.6L693.3 213.5L685.5 211.7L677.9 210.2L670.4 209.1L663.5 207.8L657.5 206.5L652.1 205.2L646.5 203.8L640.5 202.3L634.4 200.8L628.3 199.5L622.4 198.5L616.5 197.9L610.0 197.5L603.9 197.2L597.4 197.2L587.0 197.2L569.5 197.1L548.2 197.1L530.0 197.2L517.4 197.2L507.9 197.3L500.3 197.2L494.9 197.2L491.4 197.0L488.0 196.7L484.0 196.0L480.0 195.1L476.0 194.2L472.0 193.2L468.0 192.3L463.8 191.6L460.8 191.2L457.6 191.2L450.4 191.2L436.2 191.1L417.9 191.1L400.6 191.2L385.2 191.2L370.7 191.2L359.0 191.3L351.3 191.6L346.4 191.9L342.0 192.2L337.7 192.7L333.9 193.2L330.0 193.8L325.5 194.6L320.9 195.4L316.5 196.3L312.9 197.2L309.6 198.1L305.7 199.6L300.7 201.8L295.1 204.5L290.0 207.2L285.9 209.4L282.2 211.5L278.6 213.7L274.9 216.1L271.2 218.6L267.8 221.2L264.7 223.7L261.9 226.4L259.2 229.2L256.6 232.3L254.1 235.5L251.6 238.8L249.2 242.3L246.9 245.9L244.6 249.5L242.5 252.8L240.4 256.2L238.4 259.6L236.4 263.3L234.3 267.0L232.1 271.1L229.7 275.7L227.1 280.7L224.5 285.6L222.0 290.6L219.6 295.5L217.0 300.6L214.1 306.1L211.1 311.6L208.2 317.1L205.8 322.0L203.6 326.8L200.8 333.2L196.6 343.0L191.8 354.4L187.7 363.9L185.2 369.8L183.4 373.9L181.5 378.8L179.1 385.3L176.5 392.6L173.8 400.6L170.9 409.7L168.0 419.4L165.0 429.1L161.8 439.6L158.7 450.1L156.5 457.3Z" fill="#f0867a" fill-opacity="0.95" stroke="#f0867a" stroke-opacity="0.95" stroke-width="0.45" filter="url(#g2)"/></g>
<g fill="none" stroke-linecap="round" stroke-linejoin="round"><path d="M156.5 452.0L158.9 444.7L162.4 434.3L165.8 423.8L169.0 414.1L172.1 404.3L175.1 395.3L177.7 387.5L180.1 380.5L182.6 373.4L185.3 365.8L188.0 358.1L190.7 350.5L193.5 342.7L196.2 335.0L198.8 327.9L201.0 322.0L202.9 316.7L204.9 311.5L206.8 306.4L208.7 301.2L210.9 295.3L213.5 288.1L216.5 280.1L219.5 271.8L222.7 263.0L226.0 254.0L229.0 245.8L231.6 239.1L233.9 233.3L236.3 227.3L239.0 220.5L241.9 213.5L244.6 207.1L247.0 201.6L249.3 196.6L251.6 191.7L254.1 186.8L256.7 182.0L259.2 177.3L261.6 172.7L264.0 168.2L266.5 163.8L269.2 159.6L272.1 155.6L275.0 151.7L278.0 147.8L281.1 144.0L284.3 140.2L287.4 136.7L290.5 133.3L294.4 129.3L299.5 124.4L305.3 118.9L311.4 113.5L317.6 108.5L324.1 103.6L330.5 98.9L336.8 94.4L343.1 90.2L349.5 86.1L355.7 82.3L361.9 78.8L369.0 75.2L377.5 71.3L386.9 67.4L395.7 64.2L403.5 61.9L410.8 60.2L417.6 58.9L423.6 58.0L429.1 57.6L434.6 57.3L440.2 57.1L445.8 57.2L451.7 57.3L458.0 57.5L464.5 57.9L471.0 58.4L477.5 59.1L484.1 60.0L490.6 60.8L497.1 61.6L503.5 62.3L510.0 63.0L516.3 63.6L522.6 64.1L530.0 64.7L539.4 65.4L549.7 66.1L559.0 66.7L566.3 67.0L572.6 67.1L578.4 67.1L583.8 67.0L588.9 66.7L594.2 66.2L600.1 65.3L606.2 64.2L612.5 63.0L618.9 61.8L625.5 60.5L632.0 59.3L638.6 58.2L645.1 57.1L651.4 56.2L657.2 55.6L662.8 55.2L668.4 55.0L674.2 55.0L680.0 55.2L685.5 55.7L690.6 56.4L695.4 57.3L700.0 58.5L704.2 59.9L708.2 61.6L712.2 63.3L716.2 65.1L720.3 66.9L724.3 69.1L728.3 71.6L732.3 74.5L736.5 77.6L741.2 81.1L746.1 84.8L751.0 88.6L755.9 92.2L760.8 95.9L765.7 99.5L770.6 103.2L775.4 106.8L780.3 110.5L785.3 114.3L790.2 118.0L794.9 121.4L799.1 124.1L803.1 126.5L807.0 128.7L811.0 130.7L815.0 132.6L819.2 134.8L824.0 137.7L829.0 141.0L833.8 144.0L838.0 146.3L842.0 148.4L846.0 150.6L850.1 153.3L854.1 156.2L858.2 159.1L862.3 162.1L866.4 165.1L870.3 168.1L873.7 170.9L876.8 173.7L880.0 176.8L883.3 180.5L886.6 184.6L889.8 188.8L892.7 193.0L895.5 197.3L898.7 201.9L902.5 207.1L906.6 212.7L910.8 217.9L915.0 222.8L919.1 227.5L923.0 231.3L926.4 234.0L929.6 235.8L932.7 237.3L935.9 238.6L939.1 239.6L942.5 240.5L946.4 241.2L950.7 241.7L954.6 242.2L958.1 242.7L961.4 243.3L964.4 244.2L966.9 245.6L969.2 247.3L971.7 249.5L975.1 252.6L978.8 256.0L981.4 258.5L981.4 267.9L978.8 265.4L975.1 262.0L971.7 258.9L969.2 256.7L966.9 255.0L964.4 253.6L961.4 252.7L958.1 252.1L954.6 251.6L950.7 251.1L946.4 250.6L942.5 249.9L939.1 249.0L935.9 248.0L932.7 246.7L929.6 245.2L926.4 243.4L923.0 240.7L919.1 236.9L915.0 232.2L910.8 227.3L906.6 222.1L902.5 216.5L898.7 211.3L895.5 206.7L892.7 202.4L889.8 198.2L886.6 194.0L883.3 189.9L880.0 186.2L876.8 183.1L873.7 180.3L870.3 177.5L866.4 174.5L862.3 171.5L858.2 168.5L854.1 165.6L850.1 162.7L846.0 160.0L842.0 157.8L838.0 155.7L833.8 153.4L829.0 150.4L824.0 147.1L819.2 144.2L815.0 142.0L811.0 140.1L807.0 138.1L803.1 135.9L799.1 133.5L794.9 130.8L790.2 127.4L785.3 123.7L780.3 119.9L775.4 116.2L770.6 112.6L765.7 108.9L760.8 105.3L755.9 101.6L751.0 98.0L746.1 94.2L741.2 90.5L736.5 87.0L732.3 83.9L728.3 81.0L724.3 78.5L720.3 76.3L716.2 74.5L712.2 72.7L708.2 71.0L704.2 69.3L700.0 67.9L695.4 66.7L690.6 65.8L685.5 65.1L680.0 64.6L674.2 64.4L668.4 64.4L662.8 64.6L657.2 65.0L651.4 65.6L645.1 66.5L638.6 67.6L632.0 68.7L625.5 69.9L618.9 71.2L612.5 72.4L606.2 73.6L600.1 74.7L594.2 75.6L588.9 76.1L583.8 76.4L578.4 76.5L572.6 76.5L566.3 76.4L559.0 76.1L549.7 75.5L539.4 74.8L530.0 74.1L522.6 73.5L516.3 73.0L510.0 72.4L503.5 71.7L497.1 71.0L490.6 70.2L484.1 69.4L477.5 68.5L471.0 67.8L464.5 67.3L458.0 66.9L451.7 66.7L445.8 66.6L440.2 66.5L434.6 66.7L429.1 67.0L423.6 67.4L417.6 68.3L410.8 69.6L403.5 71.3L395.7 73.6L386.9 76.8L377.5 80.7L369.0 84.6L361.9 88.2L355.7 91.7L349.5 95.5L343.1 99.6L336.8 103.8L330.5 108.3L324.1 113.0L317.6 117.9L311.4 122.9L305.3 128.3L299.5 133.8L294.4 138.7L290.5 142.7L287.4 146.1L284.3 149.6L281.1 153.4L278.0 157.2L275.0 161.1L272.1 165.0L269.2 169.0L266.5 173.2L264.0 177.6L261.6 182.1L259.2 186.7L256.7 191.4L254.1 196.2L251.6 201.1L249.3 206.0L247.0 211.0L244.6 216.5L241.9 222.9L239.0 229.9L236.3 236.7L233.9 242.7L231.6 248.5L229.0 255.2L226.0 263.4L222.7 272.4L219.5 281.2L216.5 289.5L213.5 297.5L210.9 304.7L208.7 310.6L206.8 315.8L204.9 320.9L202.9 326.1L201.0 331.4L198.8 337.3L196.2 344.4L193.5 352.1L190.7 359.9L188.0 367.5L185.3 375.2L182.6 382.8L180.1 389.9L177.7 396.9L175.1 404.7L172.1 413.7L169.0 423.5L165.8 433.2L162.4 443.7L158.9 454.1L156.5 461.4Z" fill="#3c82ec" fill-opacity="0.5" filter="url(#g1b)"/><use href="#bt" stroke="#3c82ec" stroke-width="4.5" stroke-opacity="0.4" filter="url(#g3b)"/><path d="M156.5 455.4L158.9 448.1L162.4 437.7L165.8 427.2L169.0 417.5L172.1 407.7L175.1 398.7L177.7 390.9L180.1 383.9L182.6 376.8L185.3 369.2L188.0 361.5L190.7 353.9L193.5 346.1L196.2 338.4L198.8 331.3L201.0 325.4L202.9 320.1L204.9 314.9L206.8 309.8L208.7 304.6L210.9 298.7L213.5 291.5L216.5 283.5L219.5 275.2L222.7 266.4L226.0 257.4L229.0 249.2L231.6 242.5L233.9 236.7L236.3 230.7L239.0 223.9L241.9 216.9L244.6 210.5L247.0 205.0L249.3 200.0L251.6 195.1L254.1 190.2L256.7 185.4L259.2 180.7L261.6 176.1L264.0 171.6L266.5 167.2L269.2 163.0L272.1 159.0L275.0 155.1L278.0 151.2L281.1 147.4L284.3 143.6L287.4 140.1L290.5 136.7L294.4 132.7L299.5 127.8L305.3 122.3L311.4 116.9L317.6 111.9L324.1 107.0L330.5 102.3L336.8 97.8L343.1 93.6L349.5 89.5L355.7 85.7L361.9 82.2L369.0 78.6L377.5 74.7L386.9 70.8L395.7 67.6L403.5 65.3L410.8 63.6L417.6 62.3L423.6 61.4L429.1 61.0L434.6 60.7L440.2 60.5L445.8 60.6L451.7 60.7L458.0 60.9L464.5 61.3L471.0 61.8L477.5 62.5L484.1 63.4L490.6 64.2L497.1 65.0L503.5 65.7L510.0 66.4L516.3 67.0L522.6 67.5L530.0 68.1L539.4 68.8L549.7 69.5L559.0 70.1L566.3 70.4L572.6 70.5L578.4 70.5L583.8 70.4L588.9 70.1L594.2 69.6L600.1 68.7L606.2 67.6L612.5 66.4L618.9 65.2L625.5 63.9L632.0 62.7L638.6 61.6L645.1 60.5L651.4 59.6L657.2 59.0L662.8 58.6L668.4 58.4L674.2 58.4L680.0 58.6L685.5 59.1L690.6 59.8L695.4 60.7L700.0 61.9L704.2 63.3L708.2 65.0L712.2 66.7L716.2 68.5L720.3 70.3L724.3 72.5L728.3 75.0L732.3 77.9L736.5 81.0L741.2 84.5L746.1 88.2L751.0 92.0L755.9 95.6L760.8 99.3L765.7 102.9L770.6 106.6L775.4 110.2L780.3 113.9L785.3 117.7L790.2 121.4L794.9 124.8L799.1 127.5L803.1 129.9L807.0 132.1L811.0 134.1L815.0 136.0L819.2 138.2L824.0 141.1L829.0 144.4L833.8 147.4L838.0 149.7L842.0 151.8L846.0 154.0L850.1 156.7L854.1 159.6L858.2 162.5L862.3 165.5L866.4 168.5L870.3 171.5L873.7 174.3L876.8 177.1L880.0 180.2L883.3 183.9L886.6 188.0L889.8 192.2L892.7 196.4L895.5 200.7L898.7 205.3L902.5 210.5L906.6 216.1L910.8 221.3L915.0 226.2L919.1 230.9L923.0 234.7L926.4 237.4L929.6 239.2L932.7 240.7L935.9 242.0L939.1 243.0L942.5 243.9L946.4 244.6L950.7 245.1L954.6 245.6L958.1 246.1L961.4 246.7L964.4 247.6L966.9 249.0L969.2 250.7L971.7 252.9L975.1 256.0L978.8 259.4L981.4 261.9L981.4 264.5L978.8 262.0L975.1 258.6L971.7 255.5L969.2 253.3L966.9 251.6L964.4 250.2L961.4 249.3L958.1 248.7L954.6 248.2L950.7 247.7L946.4 247.2L942.5 246.5L939.1 245.6L935.9 244.6L932.7 243.3L929.6 241.8L926.4 240.0L923.0 237.3L919.1 233.5L915.0 228.8L910.8 223.9L906.6 218.7L902.5 213.1L898.7 207.9L895.5 203.3L892.7 199.0L889.8 194.8L886.6 190.6L883.3 186.5L880.0 182.8L876.8 179.7L873.7 176.9L870.3 174.1L866.4 171.1L862.3 168.1L858.2 165.1L854.1 162.2L850.1 159.3L846.0 156.6L842.0 154.4L838.0 152.3L833.8 150.0L829.0 147.0L824.0 143.7L819.2 140.8L815.0 138.6L811.0 136.7L807.0 134.7L803.1 132.5L799.1 130.1L794.9 127.4L790.2 124.0L785.3 120.3L780.3 116.5L775.4 112.8L770.6 109.2L765.7 105.5L760.8 101.9L755.9 98.2L751.0 94.6L746.1 90.8L741.2 87.1L736.5 83.6L732.3 80.5L728.3 77.6L724.3 75.1L720.3 72.9L716.2 71.1L712.2 69.3L708.2 67.6L704.2 65.9L700.0 64.5L695.4 63.3L690.6 62.4L685.5 61.7L680.0 61.2L674.2 61.0L668.4 61.0L662.8 61.2L657.2 61.6L651.4 62.2L645.1 63.1L638.6 64.2L632.0 65.3L625.5 66.5L618.9 67.8L612.5 69.0L606.2 70.2L600.1 71.3L594.2 72.2L588.9 72.7L583.8 73.0L578.4 73.1L572.6 73.1L566.3 73.0L559.0 72.7L549.7 72.1L539.4 71.4L530.0 70.7L522.6 70.1L516.3 69.6L510.0 69.0L503.5 68.3L497.1 67.6L490.6 66.8L484.1 66.0L477.5 65.1L471.0 64.4L464.5 63.9L458.0 63.5L451.7 63.3L445.8 63.2L440.2 63.1L434.6 63.3L429.1 63.6L423.6 64.0L417.6 64.9L410.8 66.2L403.5 67.9L395.7 70.2L386.9 73.4L377.5 77.3L369.0 81.2L361.9 84.8L355.7 88.3L349.5 92.1L343.1 96.2L336.8 100.4L330.5 104.9L324.1 109.6L317.6 114.5L311.4 119.5L305.3 124.9L299.5 130.4L294.4 135.3L290.5 139.3L287.4 142.7L284.3 146.2L281.1 150.0L278.0 153.8L275.0 157.7L272.1 161.6L269.2 165.6L266.5 169.8L264.0 174.2L261.6 178.7L259.2 183.3L256.7 188.0L254.1 192.8L251.6 197.7L249.3 202.6L247.0 207.6L244.6 213.1L241.9 219.5L239.0 226.5L236.3 233.3L233.9 239.3L231.6 245.1L229.0 251.8L226.0 260.0L222.7 269.0L219.5 277.8L216.5 286.1L213.5 294.1L210.9 301.3L208.7 307.2L206.8 312.4L204.9 317.5L202.9 322.7L201.0 328.0L198.8 333.9L196.2 341.0L193.5 348.7L190.7 356.5L188.0 364.1L185.3 371.8L182.6 379.4L180.1 386.5L177.7 393.5L175.1 401.3L172.1 410.3L169.0 420.1L165.8 429.8L162.4 440.3L158.9 450.7L156.5 458.0Z" fill="#3a88f6" fill-opacity="0.3" stroke="#3a88f6" stroke-opacity="0.3" stroke-width="0.5" filter="url(#gm)"/><path d="M156.5 456.1L158.9 448.8L162.4 438.3L165.8 427.9L169.0 418.1L172.1 408.4L175.1 399.4L177.7 391.6L180.1 384.6L182.6 377.5L185.3 369.9L188.0 362.2L190.7 354.6L193.5 346.8L196.2 339.0L198.8 332.0L201.0 326.0L202.9 320.8L204.9 315.6L206.8 310.4L208.7 305.3L210.9 299.4L213.5 292.2L216.5 284.1L219.5 275.9L222.7 267.1L226.0 258.1L229.0 249.8L231.6 243.2L233.9 237.4L236.3 231.3L239.0 224.6L241.9 217.6L244.6 211.2L247.0 205.6L249.3 200.6L251.6 195.8L254.1 190.8L256.7 186.0L259.2 181.3L261.6 176.7L264.0 172.2L266.5 167.8L269.2 163.7L272.1 159.7L275.0 155.8L278.0 151.9L281.1 148.0L284.3 144.2L287.4 140.8L290.5 137.3L294.4 133.3L299.5 128.4L305.3 122.9L311.4 117.5L317.6 112.5L324.1 107.6L330.5 102.9L336.8 98.5L343.1 94.2L349.5 90.1L355.7 86.4L361.9 82.8L369.0 79.2L377.5 75.4L386.9 71.5L395.7 68.2L403.5 65.9L410.8 64.2L417.6 63.0L423.6 62.1L429.1 61.6L434.6 61.4L440.2 61.2L445.8 61.2L451.7 61.4L458.0 61.6L464.5 61.9L471.0 62.5L477.5 63.2L484.1 64.0L490.6 64.8L497.1 65.6L503.5 66.4L510.0 67.0L516.3 67.6L522.6 68.2L530.0 68.8L539.4 69.5L549.7 70.2L559.0 70.8L566.3 71.1L572.6 71.2L578.4 71.1L583.8 71.0L588.9 70.8L594.2 70.2L600.1 69.4L606.2 68.2L612.5 67.0L618.9 65.8L625.5 64.6L632.0 63.4L638.6 62.2L645.1 61.1L651.4 60.2L657.2 59.6L662.8 59.2L668.4 59.1L674.2 59.1L680.0 59.3L685.5 59.8L690.6 60.5L695.4 61.4L700.0 62.6L704.2 64.0L708.2 65.6L712.2 67.3L716.2 69.1L720.3 71.0L724.3 73.1L728.3 75.7L732.3 78.5L736.5 81.6L741.2 85.1L746.1 88.9L751.0 92.6L755.9 96.3L760.8 99.9L765.7 103.5L770.6 107.2L775.4 110.9L780.3 114.5L785.3 118.3L790.2 122.1L794.9 125.4L799.1 128.2L803.1 130.5L807.0 132.8L811.0 134.8L815.0 136.6L819.2 138.8L824.0 141.8L829.0 145.1L833.8 148.0L838.0 150.4L842.0 152.4L846.0 154.7L850.1 157.3L854.1 160.2L858.2 163.2L862.3 166.1L866.4 169.2L870.3 172.2L873.7 175.0L876.8 177.7L880.0 180.8L883.3 184.6L886.6 188.6L889.8 192.8L892.7 197.0L895.5 201.3L898.7 205.9L902.5 211.2L906.6 216.7L910.8 221.9L915.0 226.9L919.1 231.5L923.0 235.3L926.4 238.0L929.6 239.8L932.7 241.3L935.9 242.7L939.1 243.7L942.5 244.5L946.4 245.2L950.7 245.7L954.6 246.2L958.1 246.8L961.4 247.3L964.4 248.2L966.9 249.6L969.2 251.4L971.7 253.5L975.1 256.6L978.8 260.1L981.4 262.6L981.4 263.8L978.8 261.4L975.1 257.9L971.7 254.8L969.2 252.7L966.9 250.9L964.4 249.6L961.4 248.6L958.1 248.1L954.6 247.6L950.7 247.0L946.4 246.5L942.5 245.8L939.1 245.0L935.9 244.0L932.7 242.7L929.6 241.1L926.4 239.3L923.0 236.7L919.1 232.8L915.0 228.2L910.8 223.2L906.6 218.0L902.5 212.5L898.7 207.2L895.5 202.6L892.7 198.3L889.8 194.2L886.6 189.9L883.3 185.9L880.0 182.2L876.8 179.0L873.7 176.3L870.3 173.5L866.4 170.5L862.3 167.4L858.2 164.5L854.1 161.5L850.1 158.6L846.0 156.0L842.0 153.7L838.0 151.7L833.8 149.3L829.0 146.4L824.0 143.1L819.2 140.2L815.0 137.9L811.0 136.1L807.0 134.1L803.1 131.8L799.1 129.5L794.9 126.8L790.2 123.4L785.3 119.6L780.3 115.9L775.4 112.2L770.6 108.5L765.7 104.9L760.8 101.2L755.9 97.6L751.0 94.0L746.1 90.2L741.2 86.4L736.5 83.0L732.3 79.8L728.3 77.0L724.3 74.5L720.3 72.3L716.2 70.4L712.2 68.7L708.2 66.9L704.2 65.3L700.0 63.9L695.4 62.7L690.6 61.8L685.5 61.0L680.0 60.6L674.2 60.4L668.4 60.4L662.8 60.5L657.2 60.9L651.4 61.5L645.1 62.4L638.6 63.5L632.0 64.7L625.5 65.9L618.9 67.1L612.5 68.4L606.2 69.5L600.1 70.7L594.2 71.6L588.9 72.1L583.8 72.3L578.4 72.5L572.6 72.5L566.3 72.4L559.0 72.1L549.7 71.5L539.4 70.8L530.0 70.1L522.6 69.5L516.3 68.9L510.0 68.4L503.5 67.7L497.1 66.9L490.6 66.2L484.1 65.3L477.5 64.5L471.0 63.8L464.5 63.2L458.0 62.9L451.7 62.6L445.8 62.5L440.2 62.5L434.6 62.6L429.1 62.9L423.6 63.4L417.6 64.2L410.8 65.5L403.5 67.2L395.7 69.6L386.9 72.8L377.5 76.7L369.0 80.6L361.9 84.1L355.7 87.7L349.5 91.5L343.1 95.5L336.8 99.8L330.5 104.2L324.1 108.9L317.6 113.8L311.4 118.9L305.3 124.2L299.5 129.7L294.4 134.7L290.5 138.6L287.4 142.1L284.3 145.6L281.1 149.3L278.0 153.2L275.0 157.1L272.1 161.0L269.2 165.0L266.5 169.2L264.0 173.5L261.6 178.0L259.2 182.7L256.7 187.3L254.1 192.1L251.6 197.1L249.3 201.9L247.0 206.9L244.6 212.5L241.9 218.9L239.0 225.9L236.3 232.7L233.9 238.7L231.6 244.5L229.0 251.2L226.0 259.4L222.7 268.4L219.5 277.1L216.5 285.4L213.5 293.5L210.9 300.6L208.7 306.6L206.8 311.7L204.9 316.8L202.9 322.1L201.0 327.3L198.8 333.2L196.2 340.3L193.5 348.1L190.7 355.8L188.0 363.5L185.3 371.2L182.6 378.8L180.1 385.9L177.7 392.9L175.1 400.6L172.1 409.7L169.0 419.4L165.8 429.1L162.4 439.6L158.9 450.1L156.5 457.3Z" fill="#72a6e2" fill-opacity="0.85" stroke="#72a6e2" stroke-opacity="0.85" stroke-width="0.45" filter="url(#g2)"/></g>
<g fill="none" stroke-linecap="round" stroke-linejoin="round"><path d="M156.8 602.5L160.6 597.3L166.0 589.9L171.6 582.2L176.9 574.7L182.3 567.0L187.8 559.2L193.2 551.6L198.6 543.9L204.0 536.3L209.5 528.4L215.1 520.5L220.3 513.3L225.1 507.0L229.6 501.4L233.8 496.3L237.5 491.8L240.9 487.7L244.6 483.6L248.8 479.3L253.3 474.8L258.1 470.1L263.2 464.9L268.6 459.3L274.3 453.8L280.4 448.5L286.8 443.1L293.3 437.7L299.8 431.9L306.3 426.1L312.7 420.6L319.1 415.7L325.3 411.2L331.0 407.2L335.7 403.9L339.8 401.1L344.4 398.2L349.5 395.3L355.1 392.4L361.4 389.0L369.0 384.8L377.5 380.1L385.7 375.6L393.2 371.4L400.4 367.3L407.6 363.4L415.4 359.5L423.2 355.8L430.0 352.5L434.5 350.1L438.0 348.1L442.7 345.6L449.9 342.0L458.5 337.7L467.0 333.5L475.3 329.3L483.6 325.2L491.4 321.3L498.1 318.0L504.1 314.9L510.8 311.6L518.5 307.7L526.9 303.5L535.2 299.4L543.3 295.5L551.4 291.6L560.0 287.4L569.8 282.5L580.0 277.3L589.3 272.5L596.9 268.3L603.6 264.5L610.0 260.8L616.2 257.3L622.1 254.0L628.3 250.6L635.1 247.0L642.1 243.3L649.0 239.7L655.8 236.3L662.5 233.0L668.4 229.9L673.0 227.0L676.8 224.3L680.6 221.4L684.7 218.1L688.8 214.7L692.7 211.7L696.1 209.3L699.3 207.4L702.5 205.6L705.7 204.0L708.8 202.7L712.2 201.5L716.0 200.4L720.0 199.3L724.3 198.5L729.0 197.9L734.0 197.4L739.0 197.0L743.9 196.7L748.8 196.5L753.6 196.0L758.1 195.0L762.4 193.8L767.0 192.6L771.9 191.6L777.1 190.6L782.7 189.7L788.9 188.7L795.6 187.7L802.2 186.8L808.7 186.0L815.3 185.2L821.7 184.6L828.2 184.1L834.5 183.8L840.0 183.7L844.0 183.7L847.3 183.9L850.9 184.5L855.3 185.6L860.2 187.2L865.5 189.0L871.5 191.2L878.0 193.7L884.0 196.0L889.0 197.8L893.7 199.3L898.7 201.0L904.6 203.1L911.0 205.5L917.0 207.6L922.6 209.4L928.0 211.0L932.7 212.5L936.5 213.7L939.5 214.7L942.5 216.1L945.4 218.3L948.2 220.8L951.0 223.4L953.9 225.7L956.8 228.1L959.5 230.7L962.1 233.6L964.5 236.9L966.8 240.5L969.0 244.7L971.0 249.2L972.9 253.9L974.6 258.6L976.2 263.4L977.7 268.5L979.1 274.0L980.4 279.7L981.4 285.5L982.2 291.2L982.7 297.0L983.1 302.5L983.4 308.3L983.7 313.9L983.8 317.8L983.8 325.8L983.7 321.9L983.4 316.3L983.1 310.5L982.7 305.0L982.2 299.2L981.4 293.5L980.4 287.7L979.1 282.0L977.7 276.5L976.2 271.4L974.6 266.6L972.9 261.9L971.0 257.2L969.0 252.7L966.8 248.5L964.5 244.9L962.1 241.6L959.5 238.7L956.8 236.1L953.9 233.7L951.0 231.4L948.2 228.8L945.4 226.3L942.5 224.1L939.5 222.7L936.5 221.7L932.7 220.5L928.0 219.0L922.6 217.4L917.0 215.6L911.0 213.5L904.6 211.1L898.7 209.0L893.7 207.3L889.0 205.8L884.0 204.0L878.0 201.7L871.5 199.2L865.5 197.0L860.2 195.2L855.3 193.6L850.9 192.5L847.3 191.9L844.0 191.7L840.0 191.7L834.5 191.8L828.2 192.1L821.7 192.6L815.3 193.2L808.7 194.0L802.2 194.8L795.6 195.7L788.9 196.7L782.7 197.7L777.1 198.6L771.9 199.6L767.0 200.6L762.4 201.8L758.1 203.0L753.6 204.0L748.8 204.5L743.9 204.7L739.0 205.0L734.0 205.4L729.0 205.9L724.3 206.5L720.0 207.3L716.0 208.4L712.2 209.5L708.8 210.7L705.7 212.0L702.5 213.6L699.3 215.4L696.1 217.3L692.7 219.7L688.8 222.7L684.7 226.1L680.6 229.4L676.8 232.3L673.0 235.0L668.4 237.9L662.5 241.0L655.8 244.3L649.0 247.7L642.1 251.3L635.1 255.0L628.3 258.6L622.1 262.0L616.2 265.3L610.0 268.8L603.6 272.5L596.9 276.3L589.3 280.5L580.0 285.3L569.8 290.5L560.0 295.4L551.4 299.6L543.3 303.5L535.2 307.4L526.9 311.5L518.5 315.7L510.8 319.6L504.1 322.9L498.1 326.0L491.4 329.3L483.6 333.2L475.3 337.3L467.0 341.5L458.5 345.7L449.9 350.0L442.7 353.6L438.0 356.1L434.5 358.1L430.0 360.5L423.2 363.8L415.4 367.5L407.6 371.4L400.4 375.3L393.2 379.4L385.7 383.6L377.5 388.1L369.0 392.8L361.4 397.0L355.1 400.4L349.5 403.3L344.4 406.2L339.8 409.1L335.7 411.9L331.0 415.2L325.3 419.2L319.1 423.7L312.7 428.6L306.3 434.1L299.8 439.9L293.3 445.7L286.8 451.1L280.4 456.5L274.3 461.8L268.6 467.3L263.2 472.9L258.1 478.1L253.3 482.8L248.8 487.3L244.6 491.6L240.9 495.7L237.5 499.8L233.8 504.3L229.6 509.4L225.1 515.0L220.3 521.3L215.1 528.5L209.5 536.4L204.0 544.3L198.6 551.9L193.2 559.6L187.8 567.2L182.3 575.0L176.9 582.7L171.6 590.2L166.0 597.9L160.6 605.3L156.8 610.5Z" fill="#cc0c0c" fill-opacity="0.72" filter="url(#g1r)"/><use href="#rp" stroke="#cc0c0c" stroke-width="4.5" stroke-opacity="0.45" filter="url(#g3r)"/><path d="M156.8 605.2L160.6 600.0L166.0 592.6L171.6 584.9L176.9 577.4L182.3 569.7L187.8 561.9L193.2 554.3L198.6 546.6L204.0 539.0L209.5 531.1L215.1 523.2L220.3 516.0L225.1 509.7L229.6 504.1L233.8 499.0L237.5 494.5L240.9 490.4L244.6 486.3L248.8 482.0L253.3 477.5L258.1 472.8L263.2 467.6L268.6 462.0L274.3 456.5L280.4 451.2L286.8 445.8L293.3 440.4L299.8 434.6L306.3 428.8L312.7 423.3L319.1 418.4L325.3 413.9L331.0 409.9L335.7 406.6L339.8 403.8L344.4 400.9L349.5 398.0L355.1 395.1L361.4 391.7L369.0 387.5L377.5 382.8L385.7 378.3L393.2 374.1L400.4 370.0L407.6 366.1L415.4 362.2L423.2 358.5L430.0 355.2L434.5 352.8L438.0 350.8L442.7 348.3L449.9 344.7L458.5 340.4L467.0 336.2L475.3 332.0L483.6 327.9L491.4 324.0L498.1 320.7L504.1 317.6L510.8 314.3L518.5 310.4L526.9 306.2L535.2 302.1L543.3 298.2L551.4 294.3L560.0 290.1L569.8 285.2L580.0 280.0L589.3 275.2L596.9 271.0L603.6 267.2L610.0 263.5L616.2 260.0L622.1 256.7L628.3 253.3L635.1 249.7L642.1 246.0L649.0 242.4L655.8 239.0L662.5 235.7L668.4 232.6L673.0 229.7L676.8 227.0L680.6 224.1L684.7 220.8L688.8 217.4L692.7 214.4L696.1 212.0L699.3 210.1L702.5 208.3L705.7 206.7L708.8 205.4L712.2 204.2L716.0 203.1L720.0 202.0L724.3 201.2L729.0 200.6L734.0 200.1L739.0 199.7L743.9 199.4L748.8 199.2L753.6 198.7L758.1 197.7L762.4 196.5L767.0 195.3L771.9 194.3L777.1 193.3L782.7 192.4L788.9 191.4L795.6 190.4L802.2 189.5L808.7 188.7L815.3 187.9L821.7 187.3L828.2 186.8L834.5 186.5L840.0 186.4L844.0 186.4L847.3 186.6L850.9 187.2L855.3 188.3L860.2 189.9L865.5 191.7L871.5 193.9L878.0 196.4L884.0 198.7L889.0 200.5L893.7 202.0L898.7 203.7L904.6 205.8L911.0 208.2L917.0 210.3L922.6 212.1L928.0 213.7L932.7 215.2L936.5 216.4L939.5 217.4L942.5 218.8L945.4 221.0L948.2 223.5L951.0 226.1L953.9 228.4L956.8 230.8L959.5 233.4L962.1 236.3L964.5 239.6L966.8 243.2L969.0 247.4L971.0 251.9L972.9 256.6L974.6 261.3L976.2 266.1L977.7 271.2L979.1 276.7L980.4 282.4L981.4 288.2L982.2 293.9L982.7 299.7L983.1 305.2L983.4 311.0L983.7 316.6L983.8 320.5L983.8 323.1L983.7 319.2L983.4 313.6L983.1 307.8L982.7 302.3L982.2 296.5L981.4 290.8L980.4 285.0L979.1 279.3L977.7 273.8L976.2 268.7L974.6 263.9L972.9 259.2L971.0 254.5L969.0 250.0L966.8 245.8L964.5 242.2L962.1 238.9L959.5 236.0L956.8 233.4L953.9 231.0L951.0 228.7L948.2 226.1L945.4 223.6L942.5 221.4L939.5 220.0L936.5 219.0L932.7 217.8L928.0 216.3L922.6 214.7L917.0 212.9L911.0 210.8L904.6 208.4L898.7 206.3L893.7 204.6L889.0 203.1L884.0 201.3L878.0 199.0L871.5 196.5L865.5 194.3L860.2 192.5L855.3 190.9L850.9 189.8L847.3 189.2L844.0 189.0L840.0 189.0L834.5 189.1L828.2 189.4L821.7 189.9L815.3 190.5L808.7 191.3L802.2 192.1L795.6 193.0L788.9 194.0L782.7 195.0L777.1 195.9L771.9 196.9L767.0 197.9L762.4 199.1L758.1 200.3L753.6 201.3L748.8 201.8L743.9 202.0L739.0 202.3L734.0 202.7L729.0 203.2L724.3 203.8L720.0 204.6L716.0 205.7L712.2 206.8L708.8 208.0L705.7 209.3L702.5 210.9L699.3 212.7L696.1 214.6L692.7 217.0L688.8 220.0L684.7 223.4L680.6 226.7L676.8 229.6L673.0 232.3L668.4 235.2L662.5 238.3L655.8 241.6L649.0 245.0L642.1 248.6L635.1 252.3L628.3 255.9L622.1 259.3L616.2 262.6L610.0 266.1L603.6 269.8L596.9 273.6L589.3 277.8L580.0 282.6L569.8 287.8L560.0 292.7L551.4 296.9L543.3 300.8L535.2 304.7L526.9 308.8L518.5 313.0L510.8 316.9L504.1 320.2L498.1 323.3L491.4 326.6L483.6 330.5L475.3 334.6L467.0 338.8L458.5 343.0L449.9 347.3L442.7 350.9L438.0 353.4L434.5 355.4L430.0 357.8L423.2 361.1L415.4 364.8L407.6 368.7L400.4 372.6L393.2 376.7L385.7 380.9L377.5 385.4L369.0 390.1L361.4 394.3L355.1 397.7L349.5 400.6L344.4 403.5L339.8 406.4L335.7 409.2L331.0 412.5L325.3 416.5L319.1 421.0L312.7 425.9L306.3 431.4L299.8 437.2L293.3 443.0L286.8 448.4L280.4 453.8L274.3 459.1L268.6 464.6L263.2 470.2L258.1 475.4L253.3 480.1L248.8 484.6L244.6 488.9L240.9 493.0L237.5 497.1L233.8 501.6L229.6 506.7L225.1 512.3L220.3 518.6L215.1 525.8L209.5 533.7L204.0 541.6L198.6 549.2L193.2 556.9L187.8 564.5L182.3 572.3L176.9 580.0L171.6 587.5L166.0 595.2L160.6 602.6L156.8 607.8Z" fill="#f01810" fill-opacity="0.32" stroke="#f01810" stroke-opacity="0.32" stroke-width="0.5" filter="url(#gm)"/><path d="M156.8 605.9L160.6 600.7L166.0 593.3L171.6 585.6L176.9 578.1L182.3 570.3L187.8 562.6L193.2 554.9L198.6 547.3L204.0 539.6L209.5 531.8L215.1 523.9L220.3 516.6L225.1 510.4L229.6 504.8L233.8 499.7L237.5 495.1L240.9 491.1L244.6 487.0L248.8 482.6L253.3 478.2L258.1 473.5L263.2 468.2L268.6 462.7L274.3 457.2L280.4 451.8L286.8 446.5L293.3 441.1L299.8 435.3L306.3 429.4L312.7 424.0L319.1 419.0L325.3 414.6L331.0 410.6L335.7 407.2L339.8 404.4L344.4 401.6L349.5 398.7L355.1 395.7L361.4 392.4L369.0 388.2L377.5 383.5L385.7 379.0L393.2 374.7L400.4 370.7L407.6 366.8L415.4 362.9L423.2 359.1L430.0 355.9L434.5 353.4L438.0 351.5L442.7 349.0L449.9 345.3L458.5 341.1L467.0 336.9L475.3 332.7L483.6 328.5L491.4 324.7L498.1 321.3L504.1 318.3L510.8 315.0L518.5 311.1L526.9 306.9L535.2 302.8L543.3 298.8L551.4 295.0L560.0 290.8L569.8 285.9L580.0 280.7L589.3 275.9L596.9 271.7L603.6 267.8L610.0 264.2L616.2 260.7L622.1 257.3L628.3 253.9L635.1 250.3L642.1 246.6L649.0 243.0L655.8 239.7L662.5 236.4L668.4 233.2L673.0 230.4L676.8 227.6L680.6 224.8L684.7 221.5L688.8 218.1L692.7 215.0L696.1 212.7L699.3 210.7L702.5 208.9L705.7 207.4L708.8 206.1L712.2 204.8L716.0 203.7L720.0 202.7L724.3 201.8L729.0 201.2L734.0 200.8L739.0 200.3L743.9 200.1L748.8 199.8L753.6 199.3L758.1 198.4L762.4 197.1L767.0 195.9L771.9 194.9L777.1 194.0L782.7 193.0L788.9 192.1L795.6 191.1L802.2 190.2L808.7 189.3L815.3 188.6L821.7 187.9L828.2 187.5L834.5 187.2L840.0 187.0L844.0 187.1L847.3 187.2L850.9 187.8L855.3 189.0L860.2 190.5L865.5 192.3L871.5 194.6L878.0 197.1L884.0 199.3L889.0 201.1L893.7 202.6L898.7 204.3L904.6 206.5L911.0 208.8L917.0 210.9L922.6 212.8L928.0 214.4L932.7 215.8L936.5 217.0L939.5 218.0L942.5 219.4L945.4 221.6L948.2 224.2L951.0 226.8L953.9 229.1L956.8 231.4L959.5 234.0L962.1 237.0L964.5 240.2L966.8 243.8L969.0 248.0L971.0 252.6L972.9 257.2L974.6 261.9L976.2 266.8L977.7 271.9L979.1 277.3L980.4 283.1L981.4 288.9L982.2 294.6L982.7 300.3L983.1 305.9L983.4 311.6L983.7 317.2L983.8 321.2L983.8 322.4L983.7 318.5L983.4 312.9L983.1 307.1L982.7 301.6L982.2 295.9L981.4 290.1L980.4 284.4L979.1 278.6L977.7 273.1L976.2 268.1L974.6 263.2L972.9 258.5L971.0 253.9L969.0 249.3L966.8 245.2L964.5 241.5L962.1 238.3L959.5 235.3L956.8 232.7L953.9 230.4L951.0 228.1L948.2 225.5L945.4 222.9L942.5 220.8L939.5 219.3L936.5 218.3L932.7 217.2L928.0 215.7L922.6 214.1L917.0 212.2L911.0 210.1L904.6 207.8L898.7 205.7L893.7 203.9L889.0 202.4L884.0 200.7L878.0 198.4L871.5 195.9L865.5 193.7L860.2 191.8L855.3 190.3L850.9 189.2L847.3 188.5L844.0 188.4L840.0 188.3L834.5 188.5L828.2 188.8L821.7 189.2L815.3 189.9L808.7 190.6L802.2 191.5L795.6 192.4L788.9 193.4L782.7 194.3L777.1 195.3L771.9 196.2L767.0 197.2L762.4 198.4L758.1 199.7L753.6 200.7L748.8 201.1L743.9 201.4L739.0 201.7L734.0 202.1L729.0 202.5L724.3 203.2L720.0 204.0L716.0 205.0L712.2 206.2L708.8 207.4L705.7 208.7L702.5 210.2L699.3 212.0L696.1 214.0L692.7 216.3L688.8 219.4L684.7 222.8L680.6 226.1L676.8 228.9L673.0 231.7L668.4 234.6L662.5 237.7L655.8 241.0L649.0 244.3L642.1 247.9L635.1 251.6L628.3 255.2L622.1 258.6L616.2 262.0L610.0 265.4L603.6 269.1L596.9 273.0L589.3 277.1L580.0 282.0L569.8 287.2L560.0 292.0L551.4 296.3L543.3 300.1L535.2 304.0L526.9 308.2L518.5 312.4L510.8 316.2L504.1 319.6L498.1 322.6L491.4 325.9L483.6 329.8L475.3 334.0L467.0 338.1L458.5 342.4L449.9 346.6L442.7 350.2L438.0 352.8L434.5 354.7L430.0 357.1L423.2 360.4L415.4 364.2L407.6 368.0L400.4 372.0L393.2 376.0L385.7 380.2L377.5 384.8L369.0 389.5L361.4 393.6L355.1 397.0L349.5 400.0L344.4 402.8L339.8 405.7L335.7 408.5L331.0 411.8L325.3 415.9L319.1 420.3L312.7 425.2L306.3 430.7L299.8 436.6L293.3 442.3L286.8 447.8L280.4 453.1L274.3 458.4L268.6 464.0L263.2 469.5L258.1 474.8L253.3 479.5L248.8 483.9L244.6 488.2L240.9 492.4L237.5 496.4L233.8 500.9L229.6 506.1L225.1 511.7L220.3 517.9L215.1 525.2L209.5 533.1L204.0 540.9L198.6 548.6L193.2 556.2L187.8 563.9L182.3 571.6L176.9 579.4L171.6 586.9L166.0 594.6L160.6 602.0L156.8 607.1Z" fill="#f0867a" fill-opacity="0.95" stroke="#f0867a" stroke-opacity="0.95" stroke-width="0.45" filter="url(#g2)"/></g>
<g fill="none" stroke-linecap="round" stroke-linejoin="round"><path d="M156.8 601.8L159.8 597.5L164.1 591.2L168.9 584.2L174.0 576.5L179.6 568.2L185.1 559.9L190.2 552.1L195.1 544.5L200.0 536.9L205.0 529.1L210.0 521.4L214.9 513.9L219.4 507.1L223.8 500.5L228.4 493.7L233.7 486.0L239.3 478.1L244.6 470.7L249.2 464.5L253.5 458.9L258.1 453.1L263.2 446.9L268.6 440.6L274.3 434.2L280.4 427.9L286.8 421.6L293.3 415.1L299.8 408.3L306.3 401.3L312.7 394.4L318.9 387.9L324.9 381.6L331.0 374.9L337.2 367.2L343.4 359.2L349.2 351.8L354.1 345.7L358.6 340.3L363.8 334.8L370.2 328.9L377.3 322.8L384.3 316.9L391.1 310.9L397.7 305.1L403.8 299.9L408.8 296.0L413.2 292.8L418.4 289.0L425.1 284.1L432.6 278.7L440.3 273.2L448.3 267.9L456.6 262.5L464.6 257.3L472.2 252.2L479.5 247.3L486.5 242.7L493.0 238.7L499.2 234.9L506.0 230.6L514.1 225.0L522.8 218.8L530.3 213.5L535.4 210.0L539.4 207.4L544.3 203.7L550.8 198.2L558.2 191.7L566.2 184.8L575.3 177.3L585.0 169.4L594.2 161.9L602.5 155.0L610.2 148.5L617.3 142.6L623.2 137.8L628.4 133.6L634.4 128.7L642.4 121.9L651.2 114.4L658.7 108.0L663.8 103.6L667.5 100.3L670.9 97.1L674.3 93.7L677.5 90.4L680.6 87.3L683.9 84.2L687.2 81.3L690.3 78.8L693.2 76.8L696.0 75.3L698.8 74.0L701.5 72.9L704.2 72.2L707.3 71.5L711.1 71.0L715.4 70.6L720.0 70.3L725.1 70.0L730.6 69.8L736.0 69.6L741.1 69.4L746.1 69.2L751.0 69.3L755.9 69.8L760.8 70.4L765.7 71.0L770.4 71.4L775.1 71.6L780.3 71.5L786.4 70.9L793.1 70.0L799.8 69.1L806.4 68.4L812.9 67.7L819.2 67.1L825.2 66.6L830.9 66.2L836.3 66.2L841.3 66.5L845.9 67.0L850.5 68.3L855.0 70.5L859.5 73.4L864.6 76.4L870.8 79.4L877.7 82.4L884.0 84.9L889.4 86.4L894.3 87.4L898.7 88.6L902.5 90.1L905.9 91.8L909.6 94.2L913.9 97.5L918.5 101.5L923.0 105.6L927.2 109.7L931.2 113.9L935.2 117.8L939.3 121.4L943.4 124.8L947.3 127.5L950.5 129.3L953.5 130.5L957.0 131.6L961.8 132.8L967.2 133.9L971.7 134.8L974.8 135.5L977.1 136.0L979.0 136.7L980.7 137.6L982.0 138.7L983.0 140.1L983.7 142.1L984.1 144.5L984.5 147.0L984.9 150.0L985.3 153.2L985.5 155.5L985.5 164.9L985.3 162.6L984.9 159.4L984.5 156.4L984.1 153.9L983.7 151.5L983.0 149.5L982.0 148.1L980.7 147.0L979.0 146.1L977.1 145.4L974.8 144.9L971.7 144.2L967.2 143.3L961.8 142.2L957.0 141.0L953.5 139.9L950.5 138.7L947.3 136.9L943.4 134.2L939.3 130.8L935.2 127.2L931.2 123.3L927.2 119.1L923.0 115.0L918.5 110.9L913.9 106.9L909.6 103.6L905.9 101.2L902.5 99.5L898.7 98.0L894.3 96.8L889.4 95.8L884.0 94.3L877.7 91.8L870.8 88.8L864.6 85.8L859.5 82.8L855.0 79.9L850.5 77.7L845.9 76.4L841.3 75.9L836.3 75.6L830.9 75.6L825.2 76.0L819.2 76.5L812.9 77.1L806.4 77.8L799.8 78.5L793.1 79.4L786.4 80.3L780.3 80.9L775.1 81.0L770.4 80.8L765.7 80.4L760.8 79.8L755.9 79.2L751.0 78.7L746.1 78.6L741.1 78.8L736.0 79.0L730.6 79.2L725.1 79.4L720.0 79.7L715.4 80.0L711.1 80.4L707.3 80.9L704.2 81.6L701.5 82.3L698.8 83.4L696.0 84.7L693.2 86.2L690.3 88.2L687.2 90.7L683.9 93.6L680.6 96.7L677.5 99.8L674.3 103.1L670.9 106.5L667.5 109.7L663.8 113.0L658.7 117.4L651.2 123.8L642.4 131.3L634.4 138.1L628.4 143.0L623.2 147.2L617.3 152.0L610.2 157.9L602.5 164.4L594.2 171.3L585.0 178.8L575.3 186.7L566.2 194.2L558.2 201.1L550.8 207.6L544.3 213.1L539.4 216.8L535.4 219.4L530.3 222.9L522.8 228.2L514.1 234.4L506.0 240.0L499.2 244.3L493.0 248.1L486.5 252.1L479.5 256.7L472.2 261.6L464.6 266.7L456.6 271.9L448.3 277.3L440.3 282.6L432.6 288.1L425.1 293.5L418.4 298.4L413.2 302.2L408.8 305.4L403.8 309.3L397.7 314.5L391.1 320.3L384.3 326.3L377.3 332.2L370.2 338.3L363.8 344.2L358.6 349.7L354.1 355.1L349.2 361.2L343.4 368.6L337.2 376.6L331.0 384.3L324.9 391.0L318.9 397.3L312.7 403.8L306.3 410.7L299.8 417.7L293.3 424.5L286.8 431.0L280.4 437.3L274.3 443.6L268.6 450.0L263.2 456.3L258.1 462.5L253.5 468.3L249.2 473.9L244.6 480.1L239.3 487.5L233.7 495.4L228.4 503.1L223.8 509.9L219.4 516.5L214.9 523.3L210.0 530.8L205.0 538.5L200.0 546.3L195.1 553.9L190.2 561.5L185.1 569.3L179.6 577.6L174.0 585.9L168.9 593.6L164.1 600.6L159.8 606.9L156.8 611.2Z" fill="#3c82ec" fill-opacity="0.5" filter="url(#g1b)"/><use href="#bp" stroke="#3c82ec" stroke-width="4.5" stroke-opacity="0.4" filter="url(#g3b)"/><path d="M156.8 605.2L159.8 600.9L164.1 594.6L168.9 587.6L174.0 579.9L179.6 571.6L185.1 563.3L190.2 555.5L195.1 547.9L200.0 540.3L205.0 532.5L210.0 524.8L214.9 517.3L219.4 510.5L223.8 503.9L228.4 497.1L233.7 489.4L239.3 481.5L244.6 474.1L249.2 467.9L253.5 462.3L258.1 456.5L263.2 450.3L268.6 444.0L274.3 437.6L280.4 431.3L286.8 425.0L293.3 418.5L299.8 411.7L306.3 404.7L312.7 397.8L318.9 391.3L324.9 385.0L331.0 378.3L337.2 370.6L343.4 362.6L349.2 355.2L354.1 349.1L358.6 343.7L363.8 338.2L370.2 332.3L377.3 326.2L384.3 320.3L391.1 314.3L397.7 308.5L403.8 303.3L408.8 299.4L413.2 296.2L418.4 292.4L425.1 287.5L432.6 282.1L440.3 276.6L448.3 271.3L456.6 265.9L464.6 260.7L472.2 255.6L479.5 250.7L486.5 246.1L493.0 242.1L499.2 238.3L506.0 234.0L514.1 228.4L522.8 222.2L530.3 216.9L535.4 213.4L539.4 210.8L544.3 207.1L550.8 201.6L558.2 195.1L566.2 188.2L575.3 180.7L585.0 172.8L594.2 165.3L602.5 158.4L610.2 151.9L617.3 146.0L623.2 141.2L628.4 137.0L634.4 132.1L642.4 125.3L651.2 117.8L658.7 111.4L663.8 107.0L667.5 103.7L670.9 100.5L674.3 97.1L677.5 93.8L680.6 90.7L683.9 87.6L687.2 84.7L690.3 82.2L693.2 80.2L696.0 78.7L698.8 77.4L701.5 76.3L704.2 75.6L707.3 74.9L711.1 74.4L715.4 74.0L720.0 73.7L725.1 73.4L730.6 73.2L736.0 73.0L741.1 72.8L746.1 72.6L751.0 72.7L755.9 73.2L760.8 73.8L765.7 74.4L770.4 74.8L775.1 75.0L780.3 74.9L786.4 74.3L793.1 73.4L799.8 72.5L806.4 71.8L812.9 71.1L819.2 70.5L825.2 70.0L830.9 69.6L836.3 69.6L841.3 69.9L845.9 70.4L850.5 71.7L855.0 73.9L859.5 76.8L864.6 79.8L870.8 82.8L877.7 85.8L884.0 88.3L889.4 89.8L894.3 90.8L898.7 92.0L902.5 93.5L905.9 95.2L909.6 97.6L913.9 100.9L918.5 104.9L923.0 109.0L927.2 113.1L931.2 117.3L935.2 121.2L939.3 124.8L943.4 128.2L947.3 130.9L950.5 132.7L953.5 133.9L957.0 135.0L961.8 136.2L967.2 137.3L971.7 138.2L974.8 138.9L977.1 139.4L979.0 140.1L980.7 141.0L982.0 142.1L983.0 143.5L983.7 145.5L984.1 147.9L984.5 150.4L984.9 153.4L985.3 156.6L985.5 158.9L985.5 161.5L985.3 159.2L984.9 156.0L984.5 153.0L984.1 150.5L983.7 148.1L983.0 146.1L982.0 144.7L980.7 143.6L979.0 142.7L977.1 142.0L974.8 141.5L971.7 140.8L967.2 139.9L961.8 138.8L957.0 137.6L953.5 136.5L950.5 135.3L947.3 133.5L943.4 130.8L939.3 127.4L935.2 123.8L931.2 119.9L927.2 115.7L923.0 111.6L918.5 107.5L913.9 103.5L909.6 100.2L905.9 97.8L902.5 96.1L898.7 94.6L894.3 93.4L889.4 92.4L884.0 90.9L877.7 88.4L870.8 85.4L864.6 82.4L859.5 79.4L855.0 76.5L850.5 74.3L845.9 73.0L841.3 72.5L836.3 72.2L830.9 72.2L825.2 72.6L819.2 73.1L812.9 73.7L806.4 74.4L799.8 75.1L793.1 76.0L786.4 76.9L780.3 77.5L775.1 77.6L770.4 77.4L765.7 77.0L760.8 76.4L755.9 75.8L751.0 75.3L746.1 75.2L741.1 75.4L736.0 75.6L730.6 75.8L725.1 76.0L720.0 76.3L715.4 76.6L711.1 77.0L707.3 77.5L704.2 78.2L701.5 78.9L698.8 80.0L696.0 81.3L693.2 82.8L690.3 84.8L687.2 87.3L683.9 90.2L680.6 93.3L677.5 96.4L674.3 99.7L670.9 103.1L667.5 106.3L663.8 109.6L658.7 114.0L651.2 120.4L642.4 127.9L634.4 134.7L628.4 139.6L623.2 143.8L617.3 148.6L610.2 154.5L602.5 161.0L594.2 167.9L585.0 175.4L575.3 183.3L566.2 190.8L558.2 197.7L550.8 204.2L544.3 209.7L539.4 213.4L535.4 216.0L530.3 219.5L522.8 224.8L514.1 231.0L506.0 236.6L499.2 240.9L493.0 244.7L486.5 248.7L479.5 253.3L472.2 258.2L464.6 263.3L456.6 268.5L448.3 273.9L440.3 279.2L432.6 284.7L425.1 290.1L418.4 295.0L413.2 298.8L408.8 302.0L403.8 305.9L397.7 311.1L391.1 316.9L384.3 322.9L377.3 328.8L370.2 334.9L363.8 340.8L358.6 346.3L354.1 351.7L349.2 357.8L343.4 365.2L337.2 373.2L331.0 380.9L324.9 387.6L318.9 393.9L312.7 400.4L306.3 407.3L299.8 414.3L293.3 421.1L286.8 427.6L280.4 433.9L274.3 440.2L268.6 446.6L263.2 452.9L258.1 459.1L253.5 464.9L249.2 470.5L244.6 476.7L239.3 484.1L233.7 492.0L228.4 499.7L223.8 506.5L219.4 513.1L214.9 519.9L210.0 527.4L205.0 535.1L200.0 542.9L195.1 550.5L190.2 558.1L185.1 565.9L179.6 574.2L174.0 582.5L168.9 590.2L164.1 597.2L159.8 603.5L156.8 607.8Z" fill="#3a88f6" fill-opacity="0.3" stroke="#3a88f6" stroke-opacity="0.3" stroke-width="0.5" filter="url(#gm)"/><path d="M156.8 605.9L159.8 601.5L164.1 595.3L168.9 588.2L174.0 580.6L179.6 572.2L185.1 564.0L190.2 556.2L195.1 548.6L200.0 541.0L205.0 533.2L210.0 525.4L214.9 518.0L219.4 511.1L223.8 504.6L228.4 497.8L233.7 490.1L239.3 482.1L244.6 474.8L249.2 468.5L253.5 462.9L258.1 457.2L263.2 451.0L268.6 444.6L274.3 438.2L280.4 432.0L286.8 425.6L293.3 419.2L299.8 412.3L306.3 405.3L312.7 398.5L318.9 392.0L324.9 385.7L331.0 379.0L337.2 371.3L343.4 363.2L349.2 355.9L354.1 349.8L358.6 344.4L363.8 338.9L370.2 332.9L377.3 326.9L384.3 321.0L391.1 315.0L397.7 309.1L403.8 304.0L408.8 300.0L413.2 296.8L418.4 293.1L425.1 288.2L432.6 282.7L440.3 277.2L448.3 271.9L456.6 266.6L464.6 261.4L472.2 256.3L479.5 251.4L486.5 246.8L493.0 242.7L499.2 239.0L506.0 234.7L514.1 229.1L522.8 222.9L530.3 217.5L535.4 214.1L539.4 211.4L544.3 207.8L550.8 202.3L558.2 195.8L566.2 188.8L575.3 181.4L585.0 173.5L594.2 165.9L602.5 159.1L610.2 152.5L617.3 146.7L623.2 141.9L628.4 137.7L634.4 132.8L642.4 126.0L651.2 118.5L658.7 112.0L663.8 107.7L667.5 104.3L670.9 101.1L674.3 97.8L677.5 94.5L680.6 91.3L683.9 88.3L687.2 85.4L690.3 82.8L693.2 80.9L696.0 79.3L698.8 78.0L701.5 77.0L704.2 76.2L707.3 75.5L711.1 75.0L715.4 74.7L720.0 74.3L725.1 74.1L730.6 73.8L736.0 73.6L741.1 73.4L746.1 73.3L751.0 73.3L755.9 73.8L760.8 74.5L765.7 75.0L770.4 75.4L775.1 75.6L780.3 75.5L786.4 75.0L793.1 74.0L799.8 73.1L806.4 72.4L812.9 71.7L819.2 71.1L825.2 70.7L830.9 70.3L836.3 70.2L841.3 70.5L845.9 71.1L850.5 72.3L855.0 74.6L859.5 77.5L864.6 80.4L870.8 83.4L877.7 86.5L884.0 88.9L889.4 90.5L894.3 91.5L898.7 92.6L902.5 94.2L905.9 95.9L909.6 98.2L913.9 101.6L918.5 105.6L923.0 109.6L927.2 113.8L931.2 117.9L935.2 121.8L939.3 125.5L943.4 128.8L947.3 131.5L950.5 133.4L953.5 134.6L957.0 135.7L961.8 136.8L967.2 137.9L971.7 138.8L974.8 139.5L977.1 140.1L979.0 140.8L980.7 141.6L982.0 142.7L983.0 144.2L983.7 146.1L984.1 148.5L984.5 151.0L984.9 154.1L985.3 157.3L985.5 159.5L985.5 160.8L985.3 158.6L984.9 155.4L984.5 152.3L984.1 149.8L983.7 147.4L983.0 145.5L982.0 144.0L980.7 142.9L979.0 142.1L977.1 141.4L974.8 140.8L971.7 140.2L967.2 139.2L961.8 138.1L957.0 137.0L953.5 135.9L950.5 134.7L947.3 132.8L943.4 130.1L939.3 126.8L935.2 123.2L931.2 119.2L927.2 115.1L923.0 111.0L918.5 106.9L913.9 102.9L909.6 99.6L905.9 97.2L902.5 95.5L898.7 94.0L894.3 92.8L889.4 91.8L884.0 90.2L877.7 87.8L870.8 84.7L864.6 81.8L859.5 78.8L855.0 75.9L850.5 73.7L845.9 72.4L841.3 71.8L836.3 71.6L830.9 71.6L825.2 72.0L819.2 72.5L812.9 73.0L806.4 73.7L799.8 74.5L793.1 75.3L786.4 76.3L780.3 76.9L775.1 76.9L770.4 76.7L765.7 76.4L760.8 75.8L755.9 75.1L751.0 74.7L746.1 74.6L741.1 74.7L736.0 75.0L730.6 75.1L725.1 75.4L720.0 75.7L715.4 76.0L711.1 76.3L707.3 76.9L704.2 77.5L701.5 78.3L698.8 79.4L696.0 80.6L693.2 82.2L690.3 84.2L687.2 86.7L683.9 89.6L680.6 92.7L677.5 95.8L674.3 99.1L670.9 102.5L667.5 105.6L663.8 109.0L658.7 113.4L651.2 119.8L642.4 127.3L634.4 134.1L628.4 139.0L623.2 143.2L617.3 148.0L610.2 153.8L602.5 160.4L594.2 167.2L585.0 174.8L575.3 182.7L566.2 190.2L558.2 197.1L550.8 203.6L544.3 209.1L539.4 212.7L535.4 215.4L530.3 218.8L522.8 224.2L514.1 230.4L506.0 236.0L499.2 240.3L493.0 244.0L486.5 248.1L479.5 252.7L472.2 257.6L464.6 262.6L456.6 267.9L448.3 273.2L440.3 278.5L432.6 284.0L425.1 289.4L418.4 294.3L413.2 298.1L408.8 301.3L403.8 305.2L397.7 310.4L391.1 316.3L384.3 322.2L377.3 328.2L370.2 334.2L363.8 340.1L358.6 345.7L354.1 351.1L349.2 357.1L343.4 364.5L337.2 372.6L331.0 380.2L324.9 387.0L318.9 393.3L312.7 399.8L306.3 406.6L299.8 413.6L293.3 420.4L286.8 426.9L280.4 433.3L274.3 439.5L268.6 445.9L263.2 452.3L258.1 458.4L253.5 464.2L249.2 469.8L244.6 476.0L239.3 483.4L233.7 491.4L228.4 499.0L223.8 505.9L219.4 512.4L214.9 519.2L210.0 526.7L205.0 534.5L200.0 542.2L195.1 549.9L190.2 557.5L185.1 565.2L179.6 573.5L174.0 581.9L168.9 589.5L164.1 596.6L159.8 602.8L156.8 607.1Z" fill="#72a6e2" fill-opacity="0.85" stroke="#72a6e2" stroke-opacity="0.85" stroke-width="0.45" filter="url(#g2)"/></g>
<use href="#rt" fill="none" stroke-linecap="round" stroke="#f0867a" stroke-width="1.3" stroke-opacity="0.95" clip-path="url(#cpb)" filter="url(#g2)"/>
<g><circle cx="171.6" cy="406.9" r="0.95" fill="rgba(255,175,165,0.65)"/><circle cx="204.0" cy="325.4" r="0.95" fill="rgba(255,175,165,0.65)"/><circle cx="245.2" cy="247.9" r="0.95" fill="rgba(255,175,165,0.65)"/><circle cx="290.0" cy="206.5" r="0.95" fill="rgba(255,175,165,0.65)"/><circle cx="339.7" cy="191.8" r="0.95" fill="rgba(255,175,165,0.65)"/><circle cx="400.6" cy="190.5" r="0.95" fill="rgba(255,175,165,0.65)"/><circle cx="450.4" cy="190.5" r="0.95" fill="rgba(255,175,165,0.65)"/><circle cx="500.3" cy="196.6" r="0.95" fill="rgba(255,175,165,0.65)"/><circle cx="544.3" cy="196.5" r="0.95" fill="rgba(255,175,165,0.65)"/><circle cx="587.0" cy="196.5" r="0.95" fill="rgba(255,175,165,0.65)"/><circle cx="627.3" cy="198.6" r="0.95" fill="rgba(255,175,165,0.65)"/><circle cx="663.0" cy="207.1" r="0.95" fill="rgba(255,175,165,0.65)"/><circle cx="685.9" cy="211.1" r="0.95" fill="rgba(255,175,165,0.65)"/><circle cx="711.8" cy="217.8" r="0.95" fill="rgba(255,175,165,0.65)"/><circle cx="728.0" cy="222.0" r="0.95" fill="rgba(255,175,165,0.65)"/><circle cx="754.0" cy="229.1" r="0.95" fill="rgba(255,175,165,0.65)"/><circle cx="767.7" cy="233.0" r="0.95" fill="rgba(255,175,165,0.65)"/><circle cx="778.0" cy="236.0" r="0.95" fill="rgba(255,175,165,0.65)"/><circle cx="801.8" cy="243.2" r="0.95" fill="rgba(255,175,165,0.65)"/><circle cx="820.6" cy="248.1" r="0.95" fill="rgba(255,175,165,0.65)"/><circle cx="840.0" cy="257.4" r="0.95" fill="rgba(255,175,165,0.65)"/><circle cx="862.2" cy="265.2" r="0.95" fill="rgba(255,175,165,0.65)"/><circle cx="883.6" cy="283.8" r="0.95" fill="rgba(255,175,165,0.65)"/><circle cx="901.0" cy="298.0" r="0.95" fill="rgba(255,175,165,0.65)"/><circle cx="920.0" cy="312.2" r="0.95" fill="rgba(255,175,165,0.65)"/><circle cx="943.5" cy="327.0" r="0.95" fill="rgba(255,175,165,0.65)"/><circle cx="965.3" cy="353.0" r="0.95" fill="rgba(255,175,165,0.65)"/><circle cx="981.9" cy="420.7" r="0.95" fill="rgba(255,175,165,0.65)"/><circle cx="171.6" cy="586.2" r="0.95" fill="rgba(255,175,165,0.65)"/><circle cx="204.0" cy="540.3" r="0.95" fill="rgba(255,175,165,0.65)"/><circle cx="245.2" cy="487.0" r="0.95" fill="rgba(255,175,165,0.65)"/><circle cx="290.0" cy="444.5" r="0.95" fill="rgba(255,175,165,0.65)"/><circle cx="339.7" cy="405.2" r="0.95" fill="rgba(255,175,165,0.65)"/><circle cx="400.6" cy="371.2" r="0.95" fill="rgba(255,175,165,0.65)"/><circle cx="450.4" cy="345.7" r="0.95" fill="rgba(255,175,165,0.65)"/><circle cx="500.3" cy="320.9" r="0.95" fill="rgba(255,175,165,0.65)"/><circle cx="544.3" cy="299.0" r="0.95" fill="rgba(255,175,165,0.65)"/><circle cx="587.0" cy="277.7" r="0.95" fill="rgba(255,175,165,0.65)"/><circle cx="627.3" cy="255.1" r="0.95" fill="rgba(255,175,165,0.65)"/><circle cx="663.0" cy="236.8" r="0.95" fill="rgba(255,175,165,0.65)"/><circle cx="685.9" cy="221.1" r="0.95" fill="rgba(255,175,165,0.65)"/><circle cx="711.8" cy="205.6" r="0.95" fill="rgba(255,175,165,0.65)"/><circle cx="728.0" cy="202.0" r="0.95" fill="rgba(255,175,165,0.65)"/><circle cx="754.0" cy="199.9" r="0.95" fill="rgba(255,175,165,0.65)"/><circle cx="767.7" cy="196.5" r="0.95" fill="rgba(255,175,165,0.65)"/><circle cx="778.0" cy="194.5" r="0.95" fill="rgba(255,175,165,0.65)"/><circle cx="801.8" cy="190.9" r="0.95" fill="rgba(255,175,165,0.65)"/><circle cx="820.6" cy="188.7" r="0.95" fill="rgba(255,175,165,0.65)"/><circle cx="840.0" cy="187.7" r="0.95" fill="rgba(255,175,165,0.65)"/><circle cx="862.2" cy="191.9" r="0.95" fill="rgba(255,175,165,0.65)"/><circle cx="883.6" cy="199.9" r="0.95" fill="rgba(255,175,165,0.65)"/><circle cx="901.0" cy="205.8" r="0.95" fill="rgba(255,175,165,0.65)"/><circle cx="920.0" cy="212.6" r="0.95" fill="rgba(255,175,165,0.65)"/><circle cx="943.5" cy="220.8" r="0.95" fill="rgba(255,175,165,0.65)"/><circle cx="965.3" cy="242.1" r="0.95" fill="rgba(255,175,165,0.65)"/><circle cx="983.8" cy="321.8" r="0.95" fill="rgba(255,175,165,0.65)"/><circle cx="171.6" cy="410.7" r="0.95" fill="rgba(155,198,245,0.6)"/><circle cx="204.0" cy="318.6" r="0.95" fill="rgba(155,198,245,0.6)"/><circle cx="245.2" cy="210.4" r="0.95" fill="rgba(155,198,245,0.6)"/><circle cx="275.0" cy="156.4" r="0.95" fill="rgba(155,198,245,0.6)"/><circle cx="311.0" cy="118.5" r="0.95" fill="rgba(155,198,245,0.6)"/><circle cx="349.5" cy="90.8" r="0.95" fill="rgba(155,198,245,0.6)"/><circle cx="395.7" cy="68.9" r="0.95" fill="rgba(155,198,245,0.6)"/><circle cx="451.7" cy="62.0" r="0.95" fill="rgba(155,198,245,0.6)"/><circle cx="510.0" cy="67.7" r="0.95" fill="rgba(155,198,245,0.6)"/><circle cx="559.0" cy="71.4" r="0.95" fill="rgba(155,198,245,0.6)"/><circle cx="602.7" cy="69.6" r="0.95" fill="rgba(155,198,245,0.6)"/><circle cx="634.0" cy="63.6" r="0.95" fill="rgba(155,198,245,0.6)"/><circle cx="658.6" cy="60.2" r="0.95" fill="rgba(155,198,245,0.6)"/><circle cx="685.5" cy="60.4" r="0.95" fill="rgba(155,198,245,0.6)"/><circle cx="706.4" cy="65.5" r="0.95" fill="rgba(155,198,245,0.6)"/><circle cx="728.0" cy="76.2" r="0.95" fill="rgba(155,198,245,0.6)"/><circle cx="751.4" cy="93.6" r="0.95" fill="rgba(155,198,245,0.6)"/><circle cx="773.0" cy="109.7" r="0.95" fill="rgba(155,198,245,0.6)"/><circle cx="799.0" cy="128.8" r="0.95" fill="rgba(155,198,245,0.6)"/><circle cx="818.0" cy="138.8" r="0.95" fill="rgba(155,198,245,0.6)"/><circle cx="837.3" cy="150.6" r="0.95" fill="rgba(155,198,245,0.6)"/><circle cx="857.7" cy="163.4" r="0.95" fill="rgba(155,198,245,0.6)"/><circle cx="883.6" cy="185.6" r="0.95" fill="rgba(155,198,245,0.6)"/><circle cx="909.6" cy="221.1" r="0.95" fill="rgba(155,198,245,0.6)"/><circle cx="935.0" cy="243.0" r="0.95" fill="rgba(155,198,245,0.6)"/><circle cx="957.0" cy="247.3" r="0.95" fill="rgba(155,198,245,0.6)"/><circle cx="971.7" cy="254.2" r="0.95" fill="rgba(155,198,245,0.6)"/><circle cx="981.4" cy="263.2" r="0.95" fill="rgba(155,198,245,0.6)"/><circle cx="171.6" cy="584.9" r="0.95" fill="rgba(155,198,245,0.6)"/><circle cx="204.0" cy="535.4" r="0.95" fill="rgba(155,198,245,0.6)"/><circle cx="245.2" cy="474.6" r="0.95" fill="rgba(155,198,245,0.6)"/><circle cx="275.0" cy="438.2" r="0.95" fill="rgba(155,198,245,0.6)"/><circle cx="311.0" cy="400.9" r="0.95" fill="rgba(155,198,245,0.6)"/><circle cx="349.5" cy="356.1" r="0.95" fill="rgba(155,198,245,0.6)"/><circle cx="395.7" cy="311.5" r="0.95" fill="rgba(155,198,245,0.6)"/><circle cx="451.7" cy="270.4" r="0.95" fill="rgba(155,198,245,0.6)"/><circle cx="510.0" cy="232.6" r="0.95" fill="rgba(155,198,245,0.6)"/><circle cx="559.0" cy="195.7" r="0.95" fill="rgba(155,198,245,0.6)"/><circle cx="602.7" cy="159.5" r="0.95" fill="rgba(155,198,245,0.6)"/><circle cx="634.0" cy="133.7" r="0.95" fill="rgba(155,198,245,0.6)"/><circle cx="658.6" cy="112.8" r="0.95" fill="rgba(155,198,245,0.6)"/><circle cx="685.5" cy="87.5" r="0.95" fill="rgba(155,198,245,0.6)"/><circle cx="706.4" cy="76.4" r="0.95" fill="rgba(155,198,245,0.6)"/><circle cx="728.0" cy="74.6" r="0.95" fill="rgba(155,198,245,0.6)"/><circle cx="751.4" cy="74.0" r="0.95" fill="rgba(155,198,245,0.6)"/><circle cx="773.0" cy="76.2" r="0.95" fill="rgba(155,198,245,0.6)"/><circle cx="799.0" cy="73.9" r="0.95" fill="rgba(155,198,245,0.6)"/><circle cx="818.0" cy="71.9" r="0.95" fill="rgba(155,198,245,0.6)"/><circle cx="837.3" cy="70.9" r="0.95" fill="rgba(155,198,245,0.6)"/><circle cx="857.7" cy="77.0" r="0.95" fill="rgba(155,198,245,0.6)"/><circle cx="883.6" cy="89.4" r="0.95" fill="rgba(155,198,245,0.6)"/><circle cx="909.6" cy="98.9" r="0.95" fill="rgba(155,198,245,0.6)"/><circle cx="935.0" cy="122.3" r="0.95" fill="rgba(155,198,245,0.6)"/><circle cx="957.0" cy="136.3" r="0.95" fill="rgba(155,198,245,0.6)"/><circle cx="971.7" cy="139.5" r="0.95" fill="rgba(155,198,245,0.6)"/><circle cx="985.5" cy="160.2" r="0.95" fill="rgba(155,198,245,0.6)"/></g>
<rect x="275" y="248" width="550" height="245" fill="rgba(255,255,255,0.392)"/>
<g fill="none" stroke="rgb(124,30,23)" stroke-width="5.8" stroke-linejoin="round" opacity="0.62"><path d="M383.2 327.5V315.8L396.3 302.7V279H368.5V305.2A64.5 64.5 0 0 0 348 312.5L329.2 294.5L308.7 314.2L327.5 332.2L320.2 355.1H292.4V382.2H320.2L327.5 403.5L308.7 422.3L329.2 441.9L347.2 423.9A64.5 64.5 0 0 0 368.5 431.3V457.5H396.3V433.7L383.2 419.8V409.5"/><path d="M397.5 304.5C401 296 409 288.5 422 286.3"/><circle cx="429.8" cy="286.2" r="7.5" stroke-width="5.8"/><path d="M418.4 329.4C424 322 431 317.5 441 316.6"/><circle cx="448.7" cy="316.4" r="7.5" stroke-width="5.8"/><path d="M397.5 432.5C401 441 409 448.5 422 450.7"/><circle cx="429.8" cy="450.8" r="7.5" stroke-width="5.8"/><path d="M418.4 408.2C424 415.5 431 420.3 441 421.3"/><circle cx="448.7" cy="421.4" r="7.5" stroke-width="5.8"/></g><path d="M381.7 329A39.4 39.4 0 0 0 381.7 407.8" fill="none" stroke="rgba(135,30,42,0.8)" stroke-width="1.3"/><g font-weight="bold" font-size="17.7" fill="#303030" stroke="#303030" stroke-width="0.4" stroke-linejoin="round"><text transform="translate(363.6 374.7) scale(1.440 1)" textLength="148.3" lengthAdjust="spacing">PERFORMANCE</text><text transform="translate(586.9 374.7) scale(1.440 1)" textLength="38.8" lengthAdjust="spacing">CAR</text><text transform="translate(651.9 374.7) scale(1.440 1)" textLength="114.3" lengthAdjust="spacing">SOLUTIONS</text></g>
</svg>
</body></html>
